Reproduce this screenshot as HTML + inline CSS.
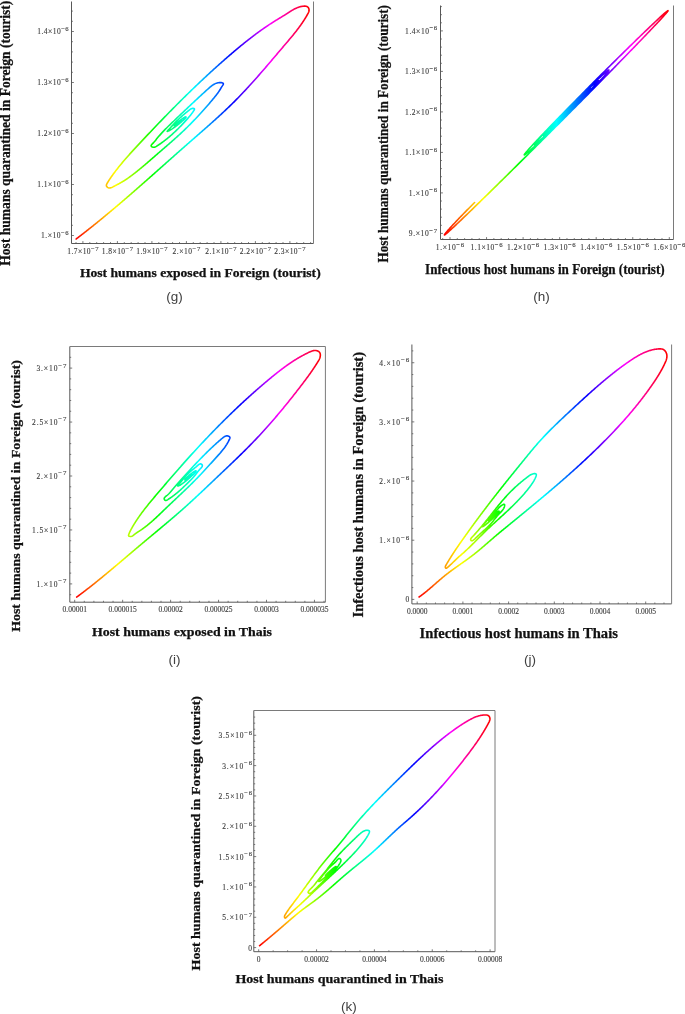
<!DOCTYPE html>
<html><head><meta charset="utf-8"><title>Figure</title>
<style>html,body{margin:0;padding:0;background:#fff}svg{display:block}.t{font-family:"Liberation Serif",serif;font-size:7.5px;fill:#3c3c3c;stroke:#3c3c3c;stroke-width:0.12px}.b{font-family:"Liberation Serif",serif;font-weight:bold;fill:#111;stroke:#111;stroke-width:0.25px}.c{font-family:"Liberation Sans","DejaVu Sans",sans-serif;font-size:13.5px;fill:#404040}</style></head><body>
<svg width="685" height="1014" viewBox="0 0 685 1014">
<rect width="685" height="1014" fill="#fff"/>
<path d="M71.5 1.5 V243.5 H313.5" fill="none" stroke="#585858" stroke-width="1"/>
<path d="M313.5 1.5 V243.5" fill="none" stroke="#7a7a7a" stroke-width="1"/>
<path d="M71.5 235.5h2.4M71.5 225.3h1.4M71.5 215.1h1.4M71.5 204.9h1.4M71.5 194.7h1.4M71.5 184.5h2.4M71.5 174.3h1.4M71.5 164.1h1.4M71.5 153.9h1.4M71.5 143.7h1.4M71.5 133.5h2.4M71.5 123.3h1.4M71.5 113.1h1.4M71.5 102.9h1.4M71.5 92.7h1.4M71.5 82.5h2.4M71.5 72.3h1.4M71.5 62.1h1.4M71.5 51.9h1.4M71.5 41.7h1.4M71.5 31.5h2.4M71.5 21.3h1.4M71.5 11.1h1.4" stroke="#585858" stroke-width="0.8" fill="none"/>
<path d="M76 243.5v-1.4M82.9 243.5v-2.4M89.8 243.5v-1.4M96.7 243.5v-1.4M103.6 243.5v-1.4M110.5 243.5v-1.4M117.4 243.5v-2.4M124.3 243.5v-1.4M131.2 243.5v-1.4M138.1 243.5v-1.4M145 243.5v-1.4M151.9 243.5v-2.4M158.8 243.5v-1.4M165.7 243.5v-1.4M172.6 243.5v-1.4M179.5 243.5v-1.4M186.4 243.5v-2.4M193.3 243.5v-1.4M200.2 243.5v-1.4M207.1 243.5v-1.4M214 243.5v-1.4M220.9 243.5v-2.4M227.8 243.5v-1.4M234.7 243.5v-1.4M241.6 243.5v-1.4M248.5 243.5v-1.4M255.4 243.5v-2.4M262.3 243.5v-1.4M269.2 243.5v-1.4M276.1 243.5v-1.4M283 243.5v-1.4M289.9 243.5v-2.4M296.8 243.5v-1.4M303.7 243.5v-1.4M310.6 243.5v-1.4" stroke="#585858" stroke-width="0.8" fill="none"/>
<text x="41" y="238.4" class="t" font-size="7.4" textLength="27.7" lengthAdjust="spacing">1.×10<tspan dy="-3.4" font-size="6.66">−6</tspan></text>
<text x="37.3" y="187.4" class="t" font-size="7.4" textLength="31.4" lengthAdjust="spacing">1.1×10<tspan dy="-3.4" font-size="6.66">−6</tspan></text>
<text x="37.3" y="136.4" class="t" font-size="7.4" textLength="31.4" lengthAdjust="spacing">1.2×10<tspan dy="-3.4" font-size="6.66">−6</tspan></text>
<text x="37.3" y="85.4" class="t" font-size="7.4" textLength="31.4" lengthAdjust="spacing">1.3×10<tspan dy="-3.4" font-size="6.66">−6</tspan></text>
<text x="37.3" y="34.4" class="t" font-size="7.4" textLength="31.4" lengthAdjust="spacing">1.4×10<tspan dy="-3.4" font-size="6.66">−6</tspan></text>
<text x="67.2" y="254.2" class="t" font-size="7.4" textLength="31.4" lengthAdjust="spacing">1.7×10<tspan dy="-3.4" font-size="6.66">−7</tspan></text>
<text x="101.7" y="254.2" class="t" font-size="7.4" textLength="31.4" lengthAdjust="spacing">1.8×10<tspan dy="-3.4" font-size="6.66">−7</tspan></text>
<text x="136.2" y="254.2" class="t" font-size="7.4" textLength="31.4" lengthAdjust="spacing">1.9×10<tspan dy="-3.4" font-size="6.66">−7</tspan></text>
<text x="172.55" y="254.2" class="t" font-size="7.4" textLength="27.7" lengthAdjust="spacing">2.×10<tspan dy="-3.4" font-size="6.66">−7</tspan></text>
<text x="205.2" y="254.2" class="t" font-size="7.4" textLength="31.4" lengthAdjust="spacing">2.1×10<tspan dy="-3.4" font-size="6.66">−7</tspan></text>
<text x="239.7" y="254.2" class="t" font-size="7.4" textLength="31.4" lengthAdjust="spacing">2.2×10<tspan dy="-3.4" font-size="6.66">−7</tspan></text>
<text x="274.2" y="254.2" class="t" font-size="7.4" textLength="31.4" lengthAdjust="spacing">2.3×10<tspan dy="-3.4" font-size="6.66">−7</tspan></text>
<text x="79.9" y="276.7" class="b" font-size="12.9" textLength="240.8" lengthAdjust="spacingAndGlyphs">Host humans exposed in Foreign (tourist)</text>
<text transform="translate(9.7 265.7) rotate(-90)" class="b" font-size="14.4" textLength="265" lengthAdjust="spacingAndGlyphs">Host humans quarantined in Foreign (tourist)</text>
<text x="174.5" y="301.2" text-anchor="middle" class="c">(g)</text>
<linearGradient id="g1" gradientUnits="userSpaceOnUse" x1="76.1" y1="0" x2="309.1" y2="0">
<stop offset="0" stop-color="#ff0000"/>
<stop offset="0.17" stop-color="#ffff00"/>
<stop offset="0.33" stop-color="#00ff00"/>
<stop offset="0.5" stop-color="#00ffff"/>
<stop offset="0.67" stop-color="#0000ff"/>
<stop offset="0.83" stop-color="#ff00ff"/>
<stop offset="1" stop-color="#ff0000"/>
</linearGradient>
<path d="M76.11 239.02 L76.65 238.61 L77.19 238.19 L77.74 237.78 L78.28 237.36 L78.82 236.95 L79.36 236.53 L79.9 236.12 L80.44 235.7 L80.98 235.28 L81.52 234.87 L82.06 234.45 L82.6 234.03 L83.14 233.61 L83.68 233.19 L84.22 232.77 L84.76 232.35 L85.29 231.93 L85.83 231.51 L86.37 231.09 L86.9 230.67 L87.44 230.25 L87.97 229.83 L88.51 229.4 L89.04 228.98 L89.58 228.56 L90.11 228.13 L90.65 227.71 L91.18 227.28 L91.71 226.86 L92.25 226.43 L92.78 226.01 L93.31 225.58 L93.84 225.15 L94.37 224.72 L94.91 224.3 L95.44 223.87 L95.97 223.44 L96.5 223.01 L97.03 222.58 L97.56 222.15 L98.09 221.72 L98.62 221.29 L99.14 220.86 L99.67 220.43 L100.2 220 L100.73 219.57 L101.26 219.14 L101.78 218.71 L102.31 218.27 L102.84 217.84 L103.36 217.41 L103.89 216.97 L104.41 216.54 L104.94 216.11 L105.46 215.67 L105.99 215.24 L106.51 214.8 L107.04 214.37 L107.56 213.93 L108.09 213.49 L108.61 213.06 L109.13 212.62 L109.66 212.18 L110.18 211.75 L110.7 211.31 L111.22 210.87 L111.75 210.43 L112.27 209.99 L112.79 209.56 L113.31 209.12 L113.83 208.68 L114.35 208.24 L114.87 207.8 L115.39 207.36 L115.91 206.92 L116.43 206.48 L116.95 206.04 L117.47 205.59 L117.99 205.15 L118.51 204.71 L119.03 204.27 L119.55 203.83 L120.07 203.39 L120.58 202.94 L121.1 202.5 L121.62 202.06 L122.14 201.61 L122.66 201.17 L123.17 200.73 L123.69 200.28 L124.21 199.84 L124.72 199.39 L125.24 198.95 L125.76 198.5 L126.27 198.06 L126.79 197.61 L127.3 197.17 L127.82 196.72 L128.33 196.28 L128.85 195.83 L129.37 195.38 L129.88 194.94 L130.39 194.49 L130.91 194.04 L131.42 193.6 L131.94 193.15 L132.45 192.7 L132.97 192.25 L133.48 191.81 L133.99 191.36 L134.51 190.91 L135.02 190.46 L135.53 190.01 L136.05 189.57 L136.56 189.12 L137.07 188.67 L137.59 188.22 L138.1 187.77 L138.61 187.32 L139.12 186.87 L139.64 186.42 L140.15 185.97 L140.66 185.52 L141.17 185.07 L141.68 184.62 L142.2 184.17 L142.71 183.72 L143.22 183.27 L143.73 182.82 L144.24 182.37 L144.75 181.92 L145.26 181.47 L145.78 181.02 L146.29 180.57 L146.8 180.11 L147.31 179.66 L147.82 179.21 L148.33 178.76 L148.84 178.31 L149.35 177.86 L149.86 177.4 L150.37 176.95 L150.88 176.5 L151.39 176.05 L151.9 175.6 L152.41 175.14 L152.92 174.69 L153.43 174.24 L153.94 173.79 L154.45 173.33 L154.96 172.88 L155.47 172.43 L155.98 171.98 L156.49 171.52 L157 171.07 L157.51 170.62 L158.02 170.17 L158.53 169.71 L159.04 169.26 L159.55 168.81 L160.06 168.35 L160.57 167.9 L161.08 167.45 L161.59 167 L162.1 166.54 L162.61 166.09 L163.12 165.64 L163.63 165.18 L164.14 164.73 L164.65 164.28 L165.16 163.82 L165.67 163.37 L166.18 162.92 L166.69 162.47 L167.2 162.01 L167.71 161.56 L168.22 161.11 L168.72 160.65 L169.23 160.2 L169.74 159.75 L170.25 159.29 L170.76 158.84 L171.27 158.39 L171.78 157.94 L172.29 157.48 L172.8 157.03 L173.31 156.58 L173.82 156.13 L174.33 155.67 L174.84 155.22 L175.35 154.77 L175.87 154.32 L176.38 153.86 L176.89 153.41 L177.4 152.96 L177.91 152.51 L178.42 152.05 L178.93 151.6 L179.44 151.15 L179.95 150.7 L180.46 150.25 L180.97 149.79 L181.48 149.34 L181.99 148.89 L182.51 148.44 L183.02 147.99 L183.53 147.54 L184.04 147.09 L184.55 146.64 L185.06 146.18 L185.58 145.73 L186.09 145.28 L186.6 144.83 L187.11 144.38 L187.62 143.93 L188.14 143.48 L188.65 143.03 L189.16 142.58 L189.67 142.13 L190.19 141.68 L190.7 141.23 L191.21 140.78 L191.73 140.33 L192.24 139.88 L192.75 139.43 L193.27 138.99 L193.78 138.54 L194.3 138.09 L194.81 137.64 L195.32 137.19 L195.84 136.74 L196.35 136.29 L196.86 135.84 L197.38 135.39 L197.89 134.95 L198.4 134.5 L198.92 134.05 L199.43 133.6 L199.94 133.15 L200.46 132.7 L200.97 132.25 L201.48 131.8 L202 131.35 L202.51 130.9 L203.02 130.45 L203.54 130 L204.05 129.55 L204.56 129.1 L205.07 128.65 L205.59 128.2 L206.1 127.75 L206.61 127.3 L207.12 126.85 L207.63 126.4 L208.14 125.94 L208.65 125.49 L209.16 125.04 L209.67 124.59 L210.18 124.13 L210.69 123.68 L211.2 123.23 L211.71 122.77 L212.22 122.32 L212.73 121.87 L213.23 121.41 L213.74 120.96 L214.25 120.5 L214.76 120.04 L215.26 119.59 L215.77 119.13 L216.27 118.67 L216.78 118.22 L217.28 117.76 L217.79 117.3 L218.29 116.84 L218.79 116.38 L219.3 115.92 L219.8 115.46 L220.3 115 L220.8 114.54 L221.3 114.08 L221.8 113.61 L222.3 113.15 L222.8 112.69 L223.3 112.22 L223.8 111.76 L224.3 111.29 L224.79 110.83 L225.29 110.36 L225.78 109.89 L226.28 109.42 L226.77 108.95 L227.27 108.48 L227.76 108.01 L228.25 107.54 L228.74 107.07 L229.23 106.6 L229.72 106.13 L230.21 105.65 L230.7 105.18 L231.19 104.7 L231.68 104.23 L232.16 103.75 L232.65 103.27 L233.13 102.8 L233.62 102.32 L234.1 101.84 L234.58 101.36 L235.07 100.87 L235.55 100.39 L236.03 99.91 L236.51 99.42 L236.99 98.94 L237.46 98.45 L237.94 97.97 L238.42 97.48 L238.89 96.99 L239.37 96.5 L239.84 96.01 L240.31 95.52 L240.78 95.03 L241.26 94.54 L241.73 94.05 L242.2 93.55 L242.67 93.06 L243.13 92.56 L243.6 92.07 L244.07 91.57 L244.54 91.08 L245 90.58 L245.47 90.08 L245.93 89.58 L246.4 89.08 L246.86 88.58 L247.32 88.08 L247.78 87.58 L248.25 87.08 L248.71 86.57 L249.17 86.07 L249.63 85.57 L250.09 85.06 L250.54 84.56 L251 84.05 L251.46 83.55 L251.92 83.04 L252.37 82.53 L252.83 82.03 L253.28 81.52 L253.74 81.01 L254.19 80.5 L254.65 79.99 L255.1 79.48 L255.55 78.97 L256.01 78.46 L256.46 77.95 L256.91 77.44 L257.36 76.92 L257.81 76.41 L258.26 75.9 L258.71 75.39 L259.16 74.87 L259.61 74.36 L260.06 73.84 L260.51 73.33 L260.96 72.82 L261.41 72.3 L261.85 71.78 L262.3 71.27 L262.75 70.75 L263.19 70.24 L263.64 69.72 L264.09 69.2 L264.53 68.69 L264.98 68.17 L265.42 67.65 L265.87 67.13 L266.31 66.61 L266.76 66.1 L267.2 65.58 L267.64 65.06 L268.09 64.54 L268.53 64.02 L268.97 63.5 L269.42 62.98 L269.86 62.46 L270.3 61.94 L270.74 61.42 L271.19 60.9 L271.63 60.39 L272.07 59.87 L272.51 59.35 L272.96 58.83 L273.4 58.3 L273.84 57.78 L274.28 57.26 L274.72 56.74 L275.16 56.22 L275.6 55.7 L276.04 55.18 L276.49 54.66 L276.93 54.14 L277.37 53.62 L277.81 53.1 L278.25 52.58 L278.69 52.06 L279.13 51.54 L279.57 51.02 L280.01 50.5 L280.46 49.98 L280.9 49.46 L281.34 48.94 L281.78 48.42 L282.22 47.9 L282.66 47.39 L283.1 46.87 L283.54 46.35 L283.99 45.83 L284.43 45.31 L284.87 44.79 L285.31 44.27 L285.75 43.76 L286.19 43.24 L286.63 42.72 L287.08 42.2 L287.52 41.68 L287.96 41.16 L288.4 40.64 L288.84 40.13 L289.27 39.61 L289.71 39.08 L290.15 38.56 L290.59 38.04 L291.02 37.52 L291.46 37 L291.89 36.47 L292.32 35.95 L292.75 35.42 L293.18 34.89 L293.61 34.37 L294.04 33.84 L294.47 33.31 L294.89 32.78 L295.31 32.24 L295.73 31.71 L296.15 31.17 L296.57 30.64 L296.99 30.1 L297.4 29.56 L297.81 29.02 L298.22 28.47 L298.63 27.93 L299.04 27.38 L299.44 26.83 L299.84 26.28 L300.24 25.73 L300.64 25.17 L301.03 24.62 L301.42 24.06 L301.81 23.5 L302.2 22.93 L302.58 22.37 L302.96 21.8 L303.34 21.23 L303.72 20.65 L304.09 20.08 L304.46 19.5 L304.82 18.92 L305.18 18.33 L305.54 17.75 L305.9 17.16 L306.25 16.56 L306.6 15.97 L306.94 15.37 L307.28 14.76 L307.62 14.16 L307.95 13.55 L308.27 12.94 L308.56 12.32 L308.79 11.68 L308.97 11.04 L309.06 10.38 L309.05 9.71 L308.93 9.02 L308.7 8.34 L308.37 7.71 L307.93 7.17 L307.41 6.75 L306.82 6.46 L306.16 6.27 L305.47 6.17 L304.75 6.14 L304.03 6.15 L303.32 6.19 L302.63 6.25 L301.94 6.35 L301.26 6.46 L300.59 6.61 L299.93 6.77 L299.28 6.95 L298.64 7.16 L298 7.38 L297.37 7.63 L296.75 7.89 L296.14 8.16 L295.52 8.45 L294.92 8.75 L294.32 9.07 L293.72 9.39 L293.13 9.73 L292.54 10.07 L291.96 10.43 L291.37 10.78 L290.79 11.15 L290.21 11.51 L289.63 11.88 L289.05 12.26 L288.48 12.63 L287.9 13 L287.32 13.37 L286.74 13.74 L286.16 14.11 L285.58 14.47 L285 14.83 L284.41 15.2 L283.83 15.56 L283.25 15.91 L282.67 16.27 L282.08 16.63 L281.5 16.99 L280.91 17.34 L280.33 17.7 L279.75 18.05 L279.16 18.41 L278.58 18.76 L278 19.12 L277.42 19.47 L276.84 19.83 L276.25 20.19 L275.67 20.55 L275.09 20.91 L274.52 21.27 L273.94 21.63 L273.36 21.99 L272.79 22.36 L272.21 22.72 L271.64 23.09 L271.07 23.46 L270.49 23.83 L269.92 24.2 L269.35 24.58 L268.79 24.95 L268.22 25.33 L267.65 25.71 L267.09 26.09 L266.52 26.47 L265.96 26.85 L265.4 27.24 L264.84 27.62 L264.28 28.01 L263.72 28.4 L263.16 28.79 L262.6 29.18 L262.04 29.57 L261.49 29.96 L260.93 30.36 L260.38 30.76 L259.82 31.15 L259.27 31.55 L258.72 31.95 L258.17 32.35 L257.62 32.76 L257.07 33.16 L256.52 33.56 L255.98 33.97 L255.43 34.38 L254.88 34.78 L254.34 35.19 L253.8 35.6 L253.25 36.02 L252.71 36.43 L252.17 36.84 L251.63 37.26 L251.09 37.67 L250.55 38.09 L250.01 38.51 L249.47 38.92 L248.93 39.34 L248.4 39.77 L247.86 40.19 L247.32 40.61 L246.79 41.03 L246.26 41.46 L245.72 41.88 L245.19 42.31 L244.66 42.73 L244.13 43.16 L243.6 43.59 L243.07 44.02 L242.54 44.45 L242.01 44.88 L241.48 45.31 L240.95 45.74 L240.42 46.18 L239.9 46.61 L239.37 47.04 L238.85 47.48 L238.32 47.92 L237.8 48.35 L237.27 48.79 L236.75 49.23 L236.23 49.66 L235.7 50.1 L235.18 50.54 L234.66 50.98 L234.14 51.42 L233.62 51.86 L233.1 52.31 L232.58 52.75 L232.06 53.19 L231.54 53.63 L231.02 54.08 L230.51 54.52 L229.99 54.96 L229.47 55.41 L228.96 55.85 L228.44 56.3 L227.92 56.75 L227.41 57.19 L226.89 57.64 L226.38 58.09 L225.87 58.54 L225.35 58.98 L224.84 59.43 L224.33 59.88 L223.81 60.33 L223.3 60.78 L222.79 61.23 L222.28 61.68 L221.77 62.13 L221.26 62.59 L220.75 63.04 L220.24 63.49 L219.73 63.94 L219.22 64.4 L218.71 64.85 L218.2 65.31 L217.7 65.76 L217.19 66.22 L216.68 66.67 L216.18 67.13 L215.67 67.58 L215.16 68.04 L214.66 68.5 L214.15 68.95 L213.65 69.41 L213.14 69.87 L212.64 70.33 L212.14 70.79 L211.63 71.25 L211.13 71.71 L210.63 72.17 L210.13 72.63 L209.62 73.09 L209.12 73.55 L208.62 74.01 L208.12 74.48 L207.62 74.94 L207.12 75.4 L206.62 75.86 L206.12 76.33 L205.62 76.79 L205.12 77.26 L204.63 77.72 L204.13 78.19 L203.63 78.65 L203.13 79.12 L202.64 79.58 L202.14 80.05 L201.64 80.52 L201.15 80.99 L200.65 81.45 L200.16 81.92 L199.66 82.39 L199.17 82.86 L198.67 83.33 L198.18 83.8 L197.69 84.27 L197.19 84.74 L196.7 85.21 L196.21 85.68 L195.71 86.15 L195.22 86.62 L194.73 87.09 L194.24 87.57 L193.75 88.04 L193.26 88.51 L192.77 88.98 L192.28 89.46 L191.79 89.93 L191.3 90.4 L190.81 90.88 L190.32 91.35 L189.83 91.83 L189.34 92.3 L188.85 92.78 L188.37 93.26 L187.88 93.73 L187.39 94.21 L186.9 94.69 L186.42 95.16 L185.93 95.64 L185.44 96.12 L184.96 96.6 L184.47 97.07 L183.99 97.55 L183.5 98.03 L183.02 98.51 L182.53 98.99 L182.05 99.47 L181.57 99.95 L181.08 100.43 L180.6 100.91 L180.12 101.39 L179.63 101.87 L179.15 102.36 L178.67 102.84 L178.19 103.32 L177.7 103.8 L177.22 104.28 L176.74 104.77 L176.26 105.25 L175.78 105.73 L175.3 106.22 L174.82 106.7 L174.34 107.19 L173.86 107.67 L173.38 108.16 L172.9 108.64 L172.42 109.13 L171.94 109.61 L171.46 110.1 L170.99 110.58 L170.51 111.07 L170.03 111.56 L169.55 112.04 L169.07 112.53 L168.6 113.02 L168.12 113.5 L167.64 113.99 L167.17 114.48 L166.69 114.97 L166.21 115.46 L165.74 115.94 L165.26 116.43 L164.79 116.92 L164.31 117.41 L163.84 117.9 L163.36 118.39 L162.89 118.88 L162.41 119.37 L161.94 119.86 L161.46 120.35 L160.99 120.84 L160.52 121.33 L160.04 121.82 L159.57 122.32 L159.1 122.81 L158.62 123.3 L158.15 123.79 L157.68 124.28 L157.21 124.78 L156.73 125.27 L156.26 125.76 L155.79 126.25 L155.32 126.75 L154.85 127.24 L154.38 127.73 L153.91 128.23 L153.43 128.72 L152.96 129.22 L152.49 129.71 L152.02 130.2 L151.55 130.7 L151.08 131.19 L150.61 131.69 L150.14 132.18 L149.67 132.68 L149.2 133.17 L148.74 133.67 L148.27 134.17 L147.8 134.66 L147.33 135.16 L146.86 135.65 L146.39 136.15 L145.92 136.65 L145.46 137.14 L144.99 137.64 L144.52 138.14 L144.05 138.63 L143.58 139.13 L143.12 139.63 L142.65 140.13 L142.18 140.62 L141.72 141.12 L141.25 141.62 L140.78 142.12 L140.32 142.62 L139.85 143.12 L139.38 143.61 L138.92 144.11 L138.45 144.61 L137.98 145.11 L137.52 145.61 L137.05 146.11 L136.59 146.61 L136.13 147.11 L135.66 147.61 L135.2 148.11 L134.74 148.61 L134.27 149.11 L133.81 149.62 L133.35 150.12 L132.89 150.62 L132.43 151.13 L131.97 151.63 L131.51 152.13 L131.05 152.64 L130.6 153.15 L130.14 153.65 L129.68 154.16 L129.23 154.67 L128.78 155.17 L128.32 155.68 L127.87 156.19 L127.42 156.7 L126.97 157.21 L126.52 157.72 L126.07 158.24 L125.63 158.75 L125.18 159.26 L124.74 159.78 L124.3 160.29 L123.85 160.81 L123.41 161.33 L122.97 161.85 L122.54 162.37 L122.1 162.89 L121.66 163.41 L121.23 163.93 L120.8 164.45 L120.37 164.98 L119.94 165.5 L119.51 166.03 L119.09 166.56 L118.66 167.09 L118.24 167.62 L117.82 168.15 L117.4 168.68 L116.98 169.21 L116.57 169.75 L116.15 170.28 L115.74 170.82 L115.33 171.36 L114.92 171.9 L114.52 172.44 L114.11 172.98 L113.71 173.53 L113.31 174.07 L112.91 174.62 L112.51 175.17 L112.12 175.72 L111.73 176.27 L111.34 176.82 L110.95 177.38 L110.56 177.94 L110.18 178.51 L109.79 179.08 L109.41 179.67 L109.02 180.26 L108.64 180.86 L108.26 181.46 L107.87 182.09 L107.49 182.72 L107.11 183.36 L106.78 184.01 L106.53 184.65 L106.4 185.28 L106.44 185.88 L106.68 186.45 L107.09 186.96 L107.64 187.4 L108.26 187.72 L108.92 187.91 L109.58 187.96 L110.25 187.9 L110.92 187.74 L111.59 187.51 L112.26 187.22 L112.92 186.89 L113.58 186.54 L114.23 186.2 L114.87 185.86 L115.5 185.52 L116.12 185.2 L116.74 184.87 L117.34 184.55 L117.94 184.23 L118.54 183.92 L119.13 183.6 L119.71 183.28 L120.29 182.96 L120.87 182.64 L121.45 182.31 L122.02 181.98 L122.59 181.64 L123.16 181.3 L123.73 180.95 L124.3 180.59 L124.86 180.23 L125.43 179.86 L126 179.48 L126.56 179.1 L127.12 178.72 L127.68 178.33 L128.25 177.94 L128.8 177.54 L129.36 177.14 L129.92 176.74 L130.47 176.33 L131.02 175.93 L131.57 175.52 L132.12 175.11 L132.67 174.69 L133.22 174.28 L133.76 173.86 L134.3 173.44 L134.84 173.02 L135.38 172.6 L135.92 172.18 L136.46 171.76 L136.99 171.33 L137.53 170.91 L138.06 170.48 L138.59 170.05 L139.12 169.62 L139.65 169.19 L140.18 168.75 L140.71 168.32 L141.23 167.88 L141.76 167.45 L142.28 167.01 L142.8 166.57 L143.32 166.13 L143.85 165.69 L144.37 165.25 L144.89 164.81 L145.41 164.37 L145.92 163.93 L146.44 163.48 L146.96 163.04 L147.47 162.6 L147.99 162.15 L148.51 161.7 L149.02 161.26 L149.54 160.81 L150.05 160.37 L150.56 159.92 L151.08 159.47 L151.59 159.02 L152.1 158.58 L152.62 158.13 L153.13 157.68 L153.64 157.23 L154.16 156.79 L154.67 156.34 L155.18 155.89 L155.7 155.44 L156.21 155 L156.72 154.55 L157.24 154.1 L157.75 153.65 L158.26 153.21 L158.78 152.76 L159.29 152.32 L159.81 151.87 L160.32 151.43 L160.84 150.98 L161.35 150.54 L161.87 150.09 L162.38 149.65 L162.9 149.2 L163.42 148.76 L163.93 148.31 L164.45 147.87 L164.96 147.42 L165.48 146.98 L165.99 146.53 L166.51 146.08 L167.02 145.64 L167.54 145.19 L168.05 144.75 L168.57 144.3 L169.08 143.85 L169.59 143.4 L170.11 142.96 L170.62 142.51 L171.13 142.06 L171.65 141.61 L172.16 141.16 L172.67 140.71 L173.18 140.26 L173.69 139.8 L174.2 139.35 L174.71 138.9 L175.22 138.44 L175.73 137.99 L176.24 137.53 L176.74 137.08 L177.25 136.62 L177.76 136.16 L178.26 135.7 L178.77 135.24 L179.27 134.78 L179.77 134.32 L180.28 133.85 L180.78 133.39 L181.28 132.92 L181.78 132.45 L182.28 131.98 L182.77 131.51 L183.27 131.04 L183.77 130.57 L184.26 130.1 L184.76 129.62 L185.25 129.15 L185.74 128.67 L186.23 128.19 L186.72 127.71 L187.21 127.23 L187.7 126.75 L188.18 126.27 L188.67 125.79 L189.15 125.3 L189.64 124.82 L190.12 124.33 L190.6 123.84 L191.08 123.36 L191.56 122.87 L192.04 122.38 L192.51 121.89 L192.99 121.4 L193.46 120.91 L193.93 120.42 L194.41 119.93 L194.88 119.44 L195.34 118.95 L195.81 118.45 L196.28 117.96 L196.74 117.47 L197.21 116.97 L197.67 116.48 L198.13 115.99 L198.59 115.49 L199.05 115 L199.5 114.5 L199.96 114.01 L200.41 113.51 L200.86 113.02 L201.32 112.52 L201.77 112.03 L202.21 111.53 L202.66 111.04 L203.11 110.54 L203.56 110.04 L204 109.54 L204.45 109.04 L204.9 108.54 L205.34 108.03 L205.79 107.53 L206.23 107.02 L206.68 106.51 L207.12 106 L207.57 105.48 L208.02 104.97 L208.46 104.45 L208.91 103.92 L209.36 103.4 L209.81 102.87 L210.26 102.34 L210.72 101.81 L211.17 101.27 L211.63 100.72 L212.08 100.18 L212.54 99.63 L213 99.08 L213.46 98.52 L213.92 97.96 L214.38 97.4 L214.83 96.84 L215.28 96.28 L215.73 95.72 L216.17 95.16 L216.6 94.6 L217.02 94.04 L217.44 93.49 L217.84 92.94 L218.23 92.4 L218.61 91.86 L218.97 91.33 L219.32 90.8 L219.65 90.28 L219.97 89.77 L220.27 89.27 L220.55 88.77 L220.85 88.25 L221.17 87.7 L221.55 87.1 L222.01 86.42 L222.53 85.66 L223.02 84.9 L223.33 84.2 L223.37 83.63 L223.08 83.22 L222.57 82.94 L221.91 82.77 L221.21 82.66 L220.51 82.61 L219.83 82.59 L219.16 82.63 L218.5 82.7 L217.85 82.81 L217.22 82.97 L216.59 83.15 L215.98 83.37 L215.38 83.62 L214.78 83.9 L214.19 84.2 L213.62 84.54 L213.05 84.89 L212.48 85.27 L211.93 85.66 L211.38 86.07 L210.83 86.5 L210.29 86.93 L209.76 87.38 L209.22 87.84 L208.7 88.31 L208.17 88.78 L207.65 89.25 L207.13 89.72 L206.61 90.19 L206.09 90.66 L205.57 91.13 L205.06 91.61 L204.54 92.08 L204.03 92.54 L203.52 93.01 L203.01 93.48 L202.5 93.95 L201.99 94.42 L201.49 94.88 L200.98 95.35 L200.48 95.82 L199.97 96.28 L199.47 96.75 L198.97 97.21 L198.47 97.68 L197.97 98.14 L197.47 98.61 L196.97 99.07 L196.48 99.54 L195.98 100 L195.48 100.46 L194.99 100.93 L194.49 101.39 L194 101.85 L193.51 102.32 L193.01 102.78 L192.52 103.24 L192.03 103.7 L191.54 104.17 L191.05 104.63 L190.56 105.09 L190.07 105.56 L189.58 106.02 L189.09 106.48 L188.6 106.95 L188.11 107.41 L187.62 107.87 L187.13 108.34 L186.64 108.8 L186.15 109.26 L185.66 109.73 L185.17 110.19 L184.68 110.66 L184.19 111.12 L183.7 111.59 L183.21 112.05 L182.72 112.52 L182.23 112.98 L181.74 113.45 L181.25 113.92 L180.75 114.39 L180.26 114.85 L179.77 115.32 L179.28 115.79 L178.78 116.26 L178.29 116.73 L177.79 117.2 L177.3 117.67 L176.8 118.14 L176.3 118.62 L175.8 119.09 L175.31 119.56 L174.81 120.04 L174.31 120.51 L173.81 120.99 L173.31 121.46 L172.81 121.94 L172.3 122.42 L171.8 122.9 L171.31 123.38 L170.81 123.86 L170.31 124.34 L169.81 124.82 L169.31 125.3 L168.82 125.78 L168.33 126.26 L167.83 126.75 L167.34 127.23 L166.85 127.72 L166.37 128.21 L165.88 128.69 L165.4 129.18 L164.92 129.67 L164.45 130.16 L163.97 130.65 L163.5 131.14 L163.03 131.63 L162.57 132.13 L162.11 132.62 L161.65 133.11 L161.2 133.61 L160.75 134.11 L160.3 134.6 L159.86 135.1 L159.42 135.6 L158.99 136.1 L158.56 136.6 L158.14 137.1 L157.72 137.61 L157.31 138.11 L156.9 138.61 L156.49 139.12 L156.08 139.63 L155.66 140.15 L155.23 140.67 L154.79 141.2 L154.32 141.74 L153.84 142.29 L153.32 142.85 L152.78 143.43 L152.21 144.01 L151.67 144.61 L151.26 145.18 L151.09 145.73 L151.25 146.23 L151.73 146.67 L152.4 146.99 L153.11 147.18 L153.8 147.23 L154.45 147.15 L155.09 146.97 L155.7 146.71 L156.3 146.39 L156.89 146.03 L157.48 145.65 L158.06 145.27 L158.64 144.89 L159.21 144.5 L159.78 144.11 L160.35 143.72 L160.92 143.32 L161.48 142.92 L162.04 142.52 L162.6 142.11 L163.15 141.71 L163.7 141.29 L164.25 140.88 L164.79 140.46 L165.34 140.04 L165.87 139.62 L166.41 139.19 L166.95 138.76 L167.48 138.33 L168.01 137.9 L168.53 137.46 L169.06 137.02 L169.58 136.58 L170.1 136.14 L170.61 135.69 L171.13 135.24 L171.64 134.79 L172.15 134.34 L172.66 133.88 L173.16 133.42 L173.66 132.96 L174.16 132.5 L174.66 132.03 L175.16 131.57 L175.65 131.1 L176.14 130.63 L176.63 130.16 L177.12 129.68 L177.61 129.21 L178.09 128.73 L178.57 128.25 L179.05 127.77 L179.53 127.29 L180.01 126.8 L180.48 126.32 L180.95 125.83 L181.42 125.34 L181.89 124.85 L182.36 124.36 L182.83 123.87 L183.29 123.37 L183.75 122.88 L184.21 122.38 L184.67 121.88 L185.13 121.38 L185.59 120.88 L186.04 120.38 L186.5 119.88 L186.95 119.38 L187.4 118.87 L187.85 118.36 L188.29 117.85 L188.74 117.33 L189.18 116.81 L189.61 116.29 L190.05 115.76 L190.48 115.22 L190.9 114.68 L191.32 114.13 L191.74 113.57 L192.16 113 L192.56 112.43 L192.97 111.85 L193.37 111.26 L193.76 110.66 L194.14 110.04 L194.43 109.46 L194.44 108.96 L194.05 108.61 L193.4 108.41 L192.68 108.38 L191.99 108.49 L191.33 108.73 L190.7 109.06 L190.1 109.45 L189.51 109.89 L188.95 110.35 L188.39 110.8 L187.85 111.23 L187.32 111.66 L186.8 112.08 L186.29 112.49 L185.78 112.9 L185.27 113.31 L184.76 113.72 L184.26 114.14 L183.75 114.56 L183.23 115 L182.72 115.44 L182.2 115.9 L181.68 116.35 L181.16 116.82 L180.64 117.29 L180.12 117.77 L179.6 118.25 L179.08 118.73 L178.57 119.22 L178.06 119.71 L177.56 120.2 L177.06 120.69 L176.56 121.18 L176.08 121.67 L175.6 122.15 L175.13 122.64 L174.67 123.12 L174.22 123.59 L173.78 124.06 L173.35 124.53 L172.93 124.98 L172.53 125.43 L172.14 125.88 L171.74 126.33 L171.32 126.8 L170.87 127.29 L170.39 127.82 L169.85 128.39 L169.24 129.02 L168.55 129.71 L167.88 130.4 L167.39 130.98 L167.25 131.34 L167.63 131.34 L168.32 131.09 L168.94 130.8 L169.52 130.48 L170.11 130.14 L170.7 129.79 L171.28 129.42 L171.86 129.06 L172.43 128.68 L172.99 128.3 L173.55 127.91 L174.11 127.52 L174.66 127.13 L175.21 126.73 L175.76 126.32 L176.31 125.91 L176.85 125.5 L177.4 125.09 L177.94 124.67 L178.47 124.25 L179.01 123.82 L179.54 123.39 L180.07 122.96 L180.59 122.53 L181.11 122.1 L181.63 121.65 L182.14 121.21 L182.65 120.75 L183.16 120.29 L183.66 119.82 L184.16 119.34 L184.65 118.86 L185.1 118.39 L185.53 117.9 L186.01 117.26 L185.88 116.87 L185.27 116.96 L184.66 117.27 L184.06 117.63 L183.48 118 L182.9 118.38 L182.33 118.76 L181.77 119.14 L181.22 119.54 L180.67 119.94 L180.12 120.34 L179.59 120.75 L179.05 121.17 L178.52 121.59 L177.99 122.03 L177.46 122.46 L176.94 122.91 L176.43 123.36 L175.93 123.82 L175.43 124.29 L174.94 124.77 L174.49 125.28 L174.33 125.83 L174.96 125.64 L175.58 125.3 L176.13 124.94 L176.69 124.56 L177.25 124.17 L177.81 123.76 L178.36 123.35 L178.89 122.93 L179.41 122.5 L179.93 122.05 L180.44 121.6 L180.95 121.13 L181.41 120.62 L181.37 120.27 L180.74 120.6 L180.16 120.99 L179.62 121.36 L179.08 121.77 L178.54 122.2 L178.01 122.65 L177.51 123.09 L177.06 123.64 L177.57 123.5 L178.13 123.11 L178.68 122.7 L179.21 122.28 L179.72 121.79 L179.5 121.72 L178.97 122.09 L178.39 122.56 L178.28 122.84 L178.87 122.41 L179.07 122.12 L178.51 122.59" fill="none" stroke="url(#g1)" stroke-width="1.6" stroke-linecap="round" stroke-linejoin="round"/>
<path d="M440.5 5.5 V239.5 H673.5" fill="none" stroke="#585858" stroke-width="1"/>
<path d="M673.5 5.5 V239.5" fill="none" stroke="#7a7a7a" stroke-width="1"/>
<path d="M440.5 233.4h2.4M440.5 225.3h1.4M440.5 217.2h1.4M440.5 209.1h1.4M440.5 201h1.4M440.5 192.9h2.4M440.5 184.8h1.4M440.5 176.7h1.4M440.5 168.6h1.4M440.5 160.5h1.4M440.5 152.4h2.4M440.5 144.3h1.4M440.5 136.2h1.4M440.5 128.1h1.4M440.5 120h1.4M440.5 111.9h2.4M440.5 103.8h1.4M440.5 95.7h1.4M440.5 87.6h1.4M440.5 79.5h1.4M440.5 71.4h2.4M440.5 63.3h1.4M440.5 55.2h1.4M440.5 47.1h1.4M440.5 39h1.4M440.5 30.9h2.4M440.5 22.8h1.4M440.5 14.7h1.4M440.5 6.6h1.4" stroke="#585858" stroke-width="0.8" fill="none"/>
<path d="M442.69 239.5v-1.4M450 239.5v-2.4M457.31 239.5v-1.4M464.62 239.5v-1.4M471.93 239.5v-1.4M479.24 239.5v-1.4M486.55 239.5v-2.4M493.86 239.5v-1.4M501.17 239.5v-1.4M508.48 239.5v-1.4M515.79 239.5v-1.4M523.1 239.5v-2.4M530.41 239.5v-1.4M537.72 239.5v-1.4M545.03 239.5v-1.4M552.34 239.5v-1.4M559.65 239.5v-2.4M566.96 239.5v-1.4M574.27 239.5v-1.4M581.58 239.5v-1.4M588.89 239.5v-1.4M596.2 239.5v-2.4M603.51 239.5v-1.4M610.82 239.5v-1.4M618.13 239.5v-1.4M625.44 239.5v-1.4M632.75 239.5v-2.4M640.06 239.5v-1.4M647.37 239.5v-1.4M654.68 239.5v-1.4M661.99 239.5v-1.4M669.3 239.5v-2.4" stroke="#585858" stroke-width="0.8" fill="none"/>
<text x="408.8" y="236.3" class="t" font-size="7.5" textLength="28.4" lengthAdjust="spacing">9.×10<tspan dy="-3.45" font-size="6.75">−7</tspan></text>
<text x="408.8" y="195.8" class="t" font-size="7.5" textLength="28.4" lengthAdjust="spacing">1.×10<tspan dy="-3.45" font-size="6.75">−6</tspan></text>
<text x="405.1" y="155.3" class="t" font-size="7.5" textLength="32.1" lengthAdjust="spacing">1.1×10<tspan dy="-3.45" font-size="6.75">−6</tspan></text>
<text x="405.1" y="114.8" class="t" font-size="7.5" textLength="32.1" lengthAdjust="spacing">1.2×10<tspan dy="-3.45" font-size="6.75">−6</tspan></text>
<text x="405.1" y="74.3" class="t" font-size="7.5" textLength="32.1" lengthAdjust="spacing">1.3×10<tspan dy="-3.45" font-size="6.75">−6</tspan></text>
<text x="405.1" y="33.8" class="t" font-size="7.5" textLength="32.1" lengthAdjust="spacing">1.4×10<tspan dy="-3.45" font-size="6.75">−6</tspan></text>
<text x="435.8" y="250.2" class="t" font-size="7.5" textLength="28.4" lengthAdjust="spacing">1.×10<tspan dy="-3.45" font-size="6.75">−6</tspan></text>
<text x="470.5" y="250.2" class="t" font-size="7.5" textLength="32.1" lengthAdjust="spacing">1.1×10<tspan dy="-3.45" font-size="6.75">−6</tspan></text>
<text x="507.05" y="250.2" class="t" font-size="7.5" textLength="32.1" lengthAdjust="spacing">1.2×10<tspan dy="-3.45" font-size="6.75">−6</tspan></text>
<text x="543.6" y="250.2" class="t" font-size="7.5" textLength="32.1" lengthAdjust="spacing">1.3×10<tspan dy="-3.45" font-size="6.75">−6</tspan></text>
<text x="580.15" y="250.2" class="t" font-size="7.5" textLength="32.1" lengthAdjust="spacing">1.4×10<tspan dy="-3.45" font-size="6.75">−6</tspan></text>
<text x="616.7" y="250.2" class="t" font-size="7.5" textLength="32.1" lengthAdjust="spacing">1.5×10<tspan dy="-3.45" font-size="6.75">−6</tspan></text>
<text x="653.25" y="250.2" class="t" font-size="7.5" textLength="32.1" lengthAdjust="spacing">1.6×10<tspan dy="-3.45" font-size="6.75">−6</tspan></text>
<text x="425.1" y="273.8" class="b" font-size="14.1" textLength="239.6" lengthAdjust="spacingAndGlyphs">Infectious host humans in Foreign (tourist)</text>
<text transform="translate(387.9 262.6) rotate(-90)" class="b" font-size="13.9" textLength="257.6" lengthAdjust="spacingAndGlyphs">Host humans quarantined in Foreign (tourist)</text>
<text x="541.4" y="301" text-anchor="middle" class="c">(h)</text>
<linearGradient id="g2" gradientUnits="userSpaceOnUse" x1="444.7" y1="0" x2="668.3" y2="0">
<stop offset="0" stop-color="#ff0000"/>
<stop offset="0.17" stop-color="#ffff00"/>
<stop offset="0.33" stop-color="#00ff00"/>
<stop offset="0.5" stop-color="#00ffff"/>
<stop offset="0.67" stop-color="#0000ff"/>
<stop offset="0.83" stop-color="#ff00ff"/>
<stop offset="1" stop-color="#ff0000"/>
</linearGradient>
<path d="M474.6 202.5 L473.36 203.74 L472.13 204.98 L470.9 206.22 L469.67 207.46 L468.45 208.69 L467.24 209.92 L466.05 211.14 L464.86 212.35 L463.7 213.55 L462.55 214.73 L461.42 215.9 L460.31 217.05 L459.23 218.17 L458.18 219.28 L457.15 220.36 L456.15 221.41 L455.18 222.44 L454.24 223.43 L453.34 224.4 L452.48 225.33 L451.65 226.23 L450.86 227.09 L450.12 227.91 L449.41 228.69 L448.75 229.43 L448.13 230.13 L447.55 230.79 L447.03 231.4 L446.54 231.97 L446.11 232.49 L445.73 232.96 L445.39 233.39 L445.1 233.76 L444.87 234.09 L444.68 234.36 L444.55 234.59 L444.47 234.76 L444.44 234.89 L444.46 234.96 L444.5 234.97 L444.58 234.95 L444.68 234.9 L444.82 234.82 L444.99 234.71 L445.18 234.57 L445.41 234.4 L445.67 234.19 L445.96 233.96 L446.28 233.69 L446.63 233.4 L447.01 233.07 L447.42 232.71 L447.86 232.33 L448.34 231.91 L448.84 231.46 L449.37 230.98 L449.93 230.48 L450.52 229.94 L451.13 229.37 L451.78 228.78 L452.46 228.15 L453.16 227.49 L453.9 226.81 L454.66 226.1 L455.45 225.36 L456.27 224.59 L457.11 223.79 L457.99 222.97 L458.89 222.11 L459.81 221.23 L460.77 220.32 L461.75 219.39 L462.75 218.43 L463.79 217.44 L464.84 216.43 L465.93 215.39 L467.03 214.32 L468.17 213.23 L469.32 212.12 L470.5 210.98 L471.71 209.81 L472.94 208.62 L474.19 207.41 L475.46 206.17 L476.76 204.91 L478.07 203.63 L479.41 202.33 L480.77 201 L482.15 199.66 L483.56 198.29 L484.98 196.9 L486.42 195.49 L487.88 194.06 L489.36 192.61 L490.86 191.14 L492.38 189.65 L493.91 188.15 L495.46 186.62 L497.03 185.08 L498.61 183.52 L500.21 181.94 L501.83 180.35 L503.46 178.74 L505.11 177.12 L506.77 175.48 L508.44 173.83 L510.13 172.16 L511.83 170.48 L513.54 168.79 L515.26 167.08 L517 165.36 L518.74 163.63 L520.5 161.89 L522.26 160.13 L524.04 158.37 L525.82 156.6 L527.61 154.82 L529.42 153.02 L531.22 151.22 L533.04 149.42 L534.86 147.6 L536.69 145.78 L538.52 143.95 L540.36 142.12 L542.2 140.28 L544.04 138.44 L545.89 136.59 L547.74 134.74 L549.6 132.88 L551.45 131.02 L553.31 129.16 L555.17 127.3 L557.03 125.44 L558.89 123.57 L560.75 121.71 L562.6 119.84 L564.46 117.98 L566.31 116.12 L568.16 114.26 L570 112.4 L571.85 110.55 L573.68 108.69 L575.52 106.85 L577.35 105 L579.17 103.17 L580.98 101.33 L582.79 99.51 L584.6 97.69 L586.39 95.87 L588.17 94.07 L589.95 92.27 L591.72 90.48 L593.48 88.7 L595.22 86.93 L596.96 85.16 L598.69 83.41 L600.4 81.67 L602.1 79.94 L603.79 78.23 L605.47 76.52 L607.13 74.83 L608.78 73.15 L610.41 71.49 L612.03 69.84 L613.63 68.2 L615.22 66.58 L616.79 64.98 L618.34 63.39 L619.88 61.81 L621.4 60.26 L622.9 58.72 L624.38 57.2 L625.85 55.69 L627.29 54.21 L628.72 52.74 L630.12 51.3 L631.51 49.87 L632.87 48.47 L634.22 47.08 L635.54 45.72 L636.84 44.37 L638.12 43.05 L639.37 41.75 L640.6 40.47 L641.81 39.22 L642.99 37.99 L644.16 36.78 L645.29 35.59 L646.4 34.43 L647.49 33.3 L648.55 32.19 L649.59 31.1 L650.6 30.04 L651.58 29.01 L652.54 28 L653.47 27.01 L654.38 26.06 L655.26 25.13 L656.11 24.22 L656.93 23.35 L657.72 22.5 L658.49 21.68 L659.23 20.89 L659.94 20.12 L660.62 19.39 L661.27 18.68 L661.9 18 L662.49 17.35 L663.06 16.73 L663.59 16.14 L664.1 15.58 L664.57 15.05 L665.02 14.55 L665.44 14.07 L665.82 13.63 L666.18 13.22 L666.5 12.84 L666.8 12.49 L667.06 12.16 L667.3 11.87 L667.5 11.61 L667.67 11.39 L667.81 11.19 L667.92 11.02 L668 10.88 L668.05 10.78 L668.07 10.7 L668.06 10.66 L667.99 10.64 L667.88 10.68 L667.72 10.76 L667.51 10.89 L667.25 11.07 L666.95 11.29 L666.59 11.57 L666.19 11.89 L665.74 12.26 L665.25 12.68 L664.71 13.14 L664.12 13.66 L663.49 14.21 L662.81 14.82 L662.08 15.47 L661.32 16.17 L660.5 16.91 L659.65 17.69 L658.75 18.52 L657.81 19.39 L656.83 20.31 L655.8 21.27 L654.74 22.27 L653.64 23.31 L652.5 24.39 L651.32 25.5 L650.1 26.66 L648.85 27.86 L647.56 29.09 L646.24 30.36 L644.88 31.66 L643.49 33 L642.07 34.37 L640.62 35.78 L639.14 37.22 L637.62 38.68 L636.08 40.18 L634.52 41.71 L632.93 43.26 L631.31 44.84 L629.67 46.44 L628.01 48.07 L626.32 49.73 L624.62 51.4 L622.89 53.1 L621.15 54.82 L619.39 56.55 L617.62 58.3 L615.83 60.07 L614.03 61.86 L612.21 63.66 L610.39 65.47 L608.55 67.29 L606.71 69.13 L604.86 70.97 L603 72.82 L601.14 74.68 L599.28 76.54 L597.41 78.41 L595.55 80.28 L593.68 82.15 L591.82 84.03 L589.95 85.9 L588.1 87.77 L586.24 89.64 L584.4 91.5 L582.56 93.35 L580.73 95.2 L578.91 97.04 L577.11 98.87 L575.31 100.69 L573.54 102.5 L571.77 104.29 L570.02 106.07 L568.29 107.84 L566.58 109.59 L564.89 111.32 L563.22 113.03 L561.57 114.72 L559.95 116.38 L558.35 118.03 L556.77 119.65 L555.22 121.25 L553.7 122.82 L552.21 124.36 L550.75 125.88 L549.32 127.36 L547.92 128.82 L546.55 130.25 L545.22 131.64 L543.92 133 L542.65 134.33 L541.42 135.62 L540.23 136.88 L539.08 138.1 L537.96 139.28 L536.89 140.42 L535.85 141.53 L534.85 142.6 L533.9 143.62 L532.99 144.61 L532.12 145.55 L531.29 146.45 L530.51 147.31 L529.77 148.12 L529.08 148.89 L528.43 149.62 L527.82 150.3 L527.27 150.94 L526.76 151.53 L526.29 152.07 L525.88 152.56 L525.51 153.01 L525.19 153.42 L524.91 153.77 L524.69 154.08 L524.51 154.33 L524.38 154.54 L524.3 154.71 L524.27 154.82 L524.28 154.88 L524.39 154.9 L524.58 154.84 L524.86 154.69 L525.22 154.45 L525.66 154.13 L526.19 153.73 L526.79 153.24 L527.48 152.67 L528.25 152.02 L529.09 151.29 L530.01 150.49 L531 149.6 L532.06 148.64 L533.2 147.61 L534.4 146.51 L535.66 145.33 L536.99 144.09 L538.38 142.79 L539.82 141.43 L541.32 140.01 L542.87 138.53 L544.47 137 L546.11 135.42 L547.79 133.8 L549.51 132.13 L551.27 130.42 L553.05 128.68 L554.87 126.9 L556.7 125.09 L558.56 123.26 L560.43 121.41 L562.32 119.54 L564.21 117.65 L566.11 115.76 L568.01 113.85 L569.91 111.95 L571.8 110.04 L573.68 108.14 L575.54 106.25 L577.39 104.38 L579.21 102.51 L581.01 100.67 L582.79 98.85 L584.52 97.06 L586.23 95.3 L587.89 93.57 L589.51 91.89 L591.08 90.24 L592.61 88.64 L594.08 87.08 L595.5 85.58 L596.85 84.13 L598.15 82.74 L599.39 81.41 L600.55 80.14 L601.65 78.94 L602.68 77.8 L603.64 76.73 L604.52 75.74 L605.33 74.82 L606.05 73.97 L606.7 73.2 L607.27 72.51 L607.75 71.91 L608.16 71.38 L608.47 70.94 L608.71 70.57 L608.86 70.3 L608.92 70.11 L608.9 70 L608.79 69.98 L608.58 70.06 L608.28 70.24 L607.88 70.51 L607.39 70.88 L606.81 71.34 L606.14 71.89 L605.38 72.53 L604.53 73.26 L603.6 74.08 L602.59 74.99 L601.49 75.98 L600.32 77.05 L599.08 78.19 L597.76 79.42 L596.38 80.71 L594.94 82.07 L593.43 83.5 L591.87 84.99 L590.26 86.54 L588.6 88.14 L586.9 89.79 L585.15 91.48 L583.38 93.22 L581.57 94.99 L579.73 96.79 L577.88 98.62 L576.01 100.48 L574.13 102.35 L572.24 104.23 L570.35 106.12 L568.46 108.02 L566.59 109.91 L564.72 111.8 L562.87 113.68 L561.05 115.54 L559.25 117.38 L557.48 119.19 L555.75 120.97 L554.06 122.72 L552.42 124.43 L550.83 126.1 L549.28 127.71 L547.8 129.28 L546.38 130.79 L545.02 132.24 L543.73 133.62 L542.51 134.94 L541.37 136.19 L540.3 137.36 L539.32 138.46 L538.41 139.47 L537.6 140.41 L536.87 141.26 L536.23 142.02 L535.68 142.69 L535.22 143.28 L534.86 143.77 L534.59 144.16 L534.41 144.47 L534.33 144.68 L534.35 144.79 L534.47 144.8 L534.71 144.7 L535.06 144.48 L535.52 144.16 L536.08 143.72 L536.75 143.17 L537.53 142.52 L538.41 141.76 L539.39 140.9 L540.46 139.94 L541.62 138.88 L542.87 137.74 L544.2 136.5 L545.61 135.18 L547.1 133.78 L548.65 132.31 L550.26 130.76 L551.93 129.16 L553.66 127.49 L555.42 125.78 L557.23 124.01 L559.06 122.21 L560.93 120.37 L562.81 118.51 L564.7 116.62 L566.6 114.73 L568.5 112.82 L570.4 110.91 L572.27 109.01 L574.13 107.12 L575.96 105.26 L577.76 103.41 L579.52 101.6 L581.23 99.83 L582.89 98.11 L584.49 96.43 L586.03 94.81 L587.5 93.26 L588.89 91.77 L590.21 90.35 L591.44 89.02 L592.58 87.76 L593.64 86.6 L594.59 85.52 L595.45 84.54 L596.21 83.66 L596.86 82.88 L597.4 82.21 L597.84 81.64 L598.16 81.18 L598.38 80.83 L598.48 80.6 L598.46 80.47 L598.33 80.47 L598.05 80.6 L597.65 80.86 L597.11 81.26 L596.45 81.79 L595.66 82.44 L594.75 83.23 L593.73 84.13 L592.59 85.15 L591.35 86.28 L590.01 87.52 L588.58 88.86 L587.05 90.29 L585.46 91.81 L583.79 93.41 L582.05 95.08 L580.27 96.81 L578.43 98.6 L576.56 100.44 L574.67 102.31 L572.75 104.21 L570.83 106.13 L568.9 108.06 L566.99 109.99 L565.09 111.92 L563.22 113.82 L561.39 115.69 L559.61 117.53 L557.88 119.33 L556.22 121.06 L554.62 122.74 L553.11 124.34 L551.68 125.87 L550.35 127.31 L549.11 128.65 L547.98 129.9 L546.97 131.04 L546.07 132.06 L545.29 132.97 L544.63 133.76 L544.11 134.43 L543.71 134.96 L543.45 135.37 L543.32 135.64 L543.33 135.78 L543.48 135.78 L543.78 135.62 L544.24 135.31 L544.84 134.85 L545.59 134.24 L546.47 133.49 L547.49 132.6 L548.64 131.57 L549.9 130.42 L551.28 129.14 L552.76 127.76 L554.33 126.27 L555.99 124.69 L557.71 123.03 L559.5 121.3 L561.33 119.51 L563.2 117.66 L565.1 115.79 L567.01 113.88 L568.92 111.97 L570.82 110.05 L572.69 108.15 L574.52 106.27 L576.31 104.43 L578.04 102.64 L579.69 100.91 L581.27 99.25 L582.75 97.67 L584.13 96.19 L585.4 94.81 L586.55 93.54 L587.57 92.39 L588.46 91.37 L589.21 90.48 L589.82 89.73 L590.28 89.13 L590.59 88.67 L590.74 88.37 L590.75 88.22 L590.57 88.23 L590.22 88.43 L589.68 88.81 L588.97 89.37 L588.1 90.11 L587.06 91.01 L585.87 92.08 L584.53 93.29 L583.08 94.64 L581.5 96.13 L579.83 97.72 L578.06 99.41 L576.23 101.19 L574.35 103.04 L572.43 104.93 L570.49 106.86 L568.55 108.81 L566.62 110.76 L564.73 112.68 L562.9 114.57 L561.12 116.41 L559.43 118.17 L557.85 119.85 L556.37 121.43 L555.02 122.9 L553.81 124.23 L552.75 125.43 L551.85 126.47 L551.11 127.35 L550.55 128.06 L550.17 128.6 L549.98 128.95 L549.96 129.12 L550.16 129.1 L550.57 128.85 L551.2 128.38 L552.03 127.71 L553.05 126.83 L554.26 125.75 L555.63 124.5 L557.15 123.09 L558.81 121.53 L560.57 119.84 L562.42 118.05 L564.33 116.18 L566.28 114.25 L568.25 112.28 L570.21 110.31 L572.14 108.35 L574 106.43 L575.79 104.58 L577.47 102.81 L579.02 101.15 L580.43 99.63 L581.68 98.25 L582.75 97.04 L583.63 96.01 L584.3 95.18 L584.76 94.55 L585.01 94.14 L585.04 93.94 L584.82 93.98 L584.35 94.28 L583.63 94.84 L582.68 95.63 L581.51 96.66 L580.14 97.9 L578.6 99.33 L576.91 100.92 L575.1 102.66 L573.2 104.5 L571.25 106.43 L569.28 108.39 L567.31 110.38 L565.4 112.33 L563.56 114.24 L561.83 116.05 L560.24 117.74 L558.81 119.29 L557.58 120.66 L556.56 121.83 L555.76 122.79 L555.21 123.51 L554.91 123.98 L554.87 124.2 L555.11 124.14 L555.63 123.8 L556.42 123.17 L557.47 122.28 L558.75 121.14 L560.23 119.78 L561.89 118.22 L563.67 116.51 L565.55 114.68 L567.48 112.77 L569.42 110.82 L571.32 108.89 L573.15 107 L574.86 105.21 L576.41 103.55 L577.77 102.06 L578.9 100.78 L579.79 99.73 L580.42 98.94 L580.76 98.41 L580.81 98.18 L580.52 98.27 L579.86 98.74 L578.85 99.57 L577.53 100.73 L575.94 102.19 L574.14 103.89 L572.18 105.78 L570.14 107.79 L568.08 109.85 L566.08 111.9 L564.2 113.86 L562.5 115.67 L561.05 117.27 L559.89 118.59 L559.06 119.6 L558.59 120.26 L558.51 120.56 L558.82 120.45 L559.54 119.92 L560.63 119.01 L562.05 117.74 L563.73 116.17 L565.6 114.37 L567.59 112.43 L569.59 110.42 L571.53 108.43 L573.32 106.55 L574.88 104.86 L576.15 103.44 L577.06 102.34 L577.58 101.62 L577.69 101.31 L577.34 101.45 L576.54 102.05 L575.32 103.1 L573.76 104.52 L571.95 106.24 L569.99 108.15 L568.01 110.14 L566.1 112.11 L564.39 113.92 L562.97 115.49 L561.93 116.71 L561.32 117.51 L561.19 117.86 L561.59 117.69 L562.53 116.95 L563.94 115.71 L565.7 114.06 L567.67 112.15 L569.69 110.13 L571.6 108.15 L573.23 106.39 L574.47 104.97 L575.21 104.03 L575.38 103.63 L575.03 103.77 L574.22 104.41 L573 105.47 L571.49 106.88 L569.79 108.52 L568.05 110.26 L566.42 111.96 L565.01 113.48 L563.95 114.7 L563.32 115.52 L563.18 115.87 L563.48 115.75 L564.19 115.21 L565.23 114.3 L566.54 113.09 L568 111.67 L569.49 110.18 L570.9 108.71 L572.11 107.4 L573.01 106.35 L573.55 105.65 L573.67 105.34 L573.41 105.44 L572.8 105.9 L571.89 106.68 L570.77 107.72 L569.51 108.94 L568.23 110.22 L567.02 111.48 L565.98 112.61 L565.21 113.52 L564.75 114.13 L564.65 114.39 L564.88 114.31 L565.4 113.92 L566.18 113.25 L567.15 112.36 L568.24 111.31 L569.34 110.21 L570.38 109.12 L571.27 108.15 L571.93 107.37 L572.33 106.84 L572.41 106.61 L572.21 106.68 L571.75 107.01 L571.08 107.59 L570.24 108.35 L569.31 109.25 L568.36 110.2 L567.47 111.13 L566.71 111.97 L566.14 112.65 L565.8 113.1 L565.73 113.3 L565.91 113.25 L566.3 112.96 L566.88 112.47 L567.6 111.81 L568.41 111.05 L569.22 110.23 L569.99 109.42 L570.64 108.7 L571.13 108.12 L571.42 107.72 L571.47 107.55 L571.32 107.59 L570.98 107.84 L570.48 108.26 L569.86 108.82 L569.17 109.48 L568.46 110.19 L567.81 110.88 L567.24 111.5 L566.83 112 L566.58 112.34 L566.54 112.5 L566.67 112.46 L566.97 112.25 L567.4 111.89 L567.93 111.41 L568.53 110.84 L569.13 110.24 L569.7 109.64 L570.18 109.1 L570.54 108.67 L570.75 108.37 L570.78 108.24 L570.67 108.27 L570.41 108.45 L570.04 108.76 L569.57 109.17 L569.06 109.66 L568.54 110.18 L568.06 110.69 L567.64 111.15 L567.34 111.53 L567.16 111.78 L567.13 111.9 L567.23 111.88 L567.46 111.73 L567.78 111.46 L568.18 111.11 L568.62 110.69 L569.06 110.24 L569.48 109.8 L569.84 109.4 L570.1 109.08 L570.25 108.86 L570.27 108.75 L570.18 108.77 L569.99 108.9 L569.71 109.13 L569.37 109.43 L568.99 109.79 L568.61 110.18 L568.25 110.56 L567.94 110.9 L567.72 111.18 L567.59 111.37 L567.57 111.46 L567.65 111.45 L567.82 111.34 L568.06 111.14 L568.35 110.88 L568.68 110.57 L569.01 110.24 L569.32 109.92 L569.58 109.62 L569.77 109.38 L569.88 109.21 L569.89 109.13" fill="none" stroke="url(#g2)" stroke-width="1.6" stroke-linecap="round" stroke-linejoin="round"/>
<path d="M69.8 346.5 V602.2 H325.4" fill="none" stroke="#585858" stroke-width="1"/>
<path d="M69.8 346.5 H325.4 V602.2" fill="none" stroke="#7a7a7a" stroke-width="1"/>
<path d="M69.8 594.69h1.4M69.8 583.9h2.4M69.8 573.11h1.4M69.8 562.32h1.4M69.8 551.53h1.4M69.8 540.74h1.4M69.8 529.95h2.4M69.8 519.16h1.4M69.8 508.37h1.4M69.8 497.58h1.4M69.8 486.79h1.4M69.8 476h2.4M69.8 465.21h1.4M69.8 454.42h1.4M69.8 443.63h1.4M69.8 432.84h1.4M69.8 422.05h2.4M69.8 411.26h1.4M69.8 400.47h1.4M69.8 389.68h1.4M69.8 378.89h1.4M69.8 368.1h2.4M69.8 357.31h1.4" stroke="#585858" stroke-width="0.8" fill="none"/>
<path d="M74.7 602.2v-2.4M84.29 602.2v-1.4M93.88 602.2v-1.4M103.47 602.2v-1.4M113.06 602.2v-1.4M122.65 602.2v-2.4M132.24 602.2v-1.4M141.83 602.2v-1.4M151.42 602.2v-1.4M161.01 602.2v-1.4M170.6 602.2v-2.4M180.19 602.2v-1.4M189.78 602.2v-1.4M199.37 602.2v-1.4M208.96 602.2v-1.4M218.55 602.2v-2.4M228.14 602.2v-1.4M237.73 602.2v-1.4M247.32 602.2v-1.4M256.91 602.2v-1.4M266.5 602.2v-2.4M276.09 602.2v-1.4M285.68 602.2v-1.4M295.27 602.2v-1.4M304.86 602.2v-1.4M314.45 602.2v-2.4M324.04 602.2v-1.4" stroke="#585858" stroke-width="0.8" fill="none"/>
<text x="36.4" y="586.8" class="t" font-size="7.6" textLength="30.1" lengthAdjust="spacing">1.×10<tspan dy="-3.5" font-size="6.84">−7</tspan></text>
<text x="32.1" y="532.85" class="t" font-size="7.6" textLength="34.4" lengthAdjust="spacing">1.5×10<tspan dy="-3.5" font-size="6.84">−7</tspan></text>
<text x="36.4" y="478.9" class="t" font-size="7.6" textLength="30.1" lengthAdjust="spacing">2.×10<tspan dy="-3.5" font-size="6.84">−7</tspan></text>
<text x="32.1" y="424.95" class="t" font-size="7.6" textLength="34.4" lengthAdjust="spacing">2.5×10<tspan dy="-3.5" font-size="6.84">−7</tspan></text>
<text x="36.4" y="371" class="t" font-size="7.6" textLength="30.1" lengthAdjust="spacing">3.×10<tspan dy="-3.5" font-size="6.84">−7</tspan></text>
<text x="74.7" y="612" text-anchor="middle" class="t" font-size="7.6">0.00001</text>
<text x="122.65" y="612" text-anchor="middle" class="t" font-size="7.6">0.000015</text>
<text x="170.6" y="612" text-anchor="middle" class="t" font-size="7.6">0.00002</text>
<text x="218.55" y="612" text-anchor="middle" class="t" font-size="7.6">0.000025</text>
<text x="266.5" y="612" text-anchor="middle" class="t" font-size="7.6">0.00003</text>
<text x="314.45" y="612" text-anchor="middle" class="t" font-size="7.6">0.000035</text>
<text x="92" y="635.6" class="b" font-size="12.7" textLength="180" lengthAdjust="spacingAndGlyphs">Host humans exposed in Thais</text>
<text transform="translate(20.3 631.8) rotate(-90)" class="b" font-size="13.3" textLength="271.8" lengthAdjust="spacingAndGlyphs">Host humans quarantined in Foreign (tourist)</text>
<text x="174.5" y="663.5" text-anchor="middle" class="c">(i)</text>
<linearGradient id="g3" gradientUnits="userSpaceOnUse" x1="76.7" y1="0" x2="320.4" y2="0">
<stop offset="0" stop-color="#ff0000"/>
<stop offset="0.17" stop-color="#ffff00"/>
<stop offset="0.33" stop-color="#00ff00"/>
<stop offset="0.5" stop-color="#00ffff"/>
<stop offset="0.67" stop-color="#0000ff"/>
<stop offset="0.83" stop-color="#ff00ff"/>
<stop offset="1" stop-color="#ff0000"/>
</linearGradient>
<path d="M76.68 597.08 L77.22 596.69 L77.77 596.29 L78.31 595.89 L78.85 595.49 L79.38 595.09 L79.92 594.69 L80.46 594.28 L81 593.88 L81.53 593.48 L82.07 593.07 L82.61 592.67 L83.14 592.26 L83.67 591.86 L84.21 591.45 L84.74 591.04 L85.27 590.63 L85.81 590.22 L86.34 589.81 L86.87 589.4 L87.4 588.99 L87.93 588.58 L88.46 588.17 L88.99 587.76 L89.52 587.34 L90.05 586.93 L90.57 586.51 L91.1 586.1 L91.63 585.68 L92.15 585.27 L92.68 584.85 L93.2 584.43 L93.73 584.02 L94.25 583.6 L94.78 583.18 L95.3 582.76 L95.82 582.34 L96.35 581.92 L96.87 581.5 L97.39 581.08 L97.91 580.66 L98.43 580.23 L98.96 579.81 L99.48 579.39 L100 578.97 L100.52 578.54 L101.04 578.12 L101.56 577.69 L102.07 577.27 L102.59 576.84 L103.11 576.42 L103.63 575.99 L104.15 575.56 L104.66 575.14 L105.18 574.71 L105.7 574.28 L106.21 573.86 L106.73 573.43 L107.25 573 L107.76 572.57 L108.28 572.14 L108.79 571.71 L109.31 571.28 L109.82 570.85 L110.34 570.42 L110.85 569.99 L111.37 569.56 L111.88 569.13 L112.39 568.7 L112.91 568.27 L113.42 567.84 L113.93 567.41 L114.45 566.97 L114.96 566.54 L115.47 566.11 L115.99 565.68 L116.5 565.24 L117.01 564.81 L117.52 564.38 L118.03 563.94 L118.55 563.51 L119.06 563.08 L119.57 562.64 L120.08 562.21 L120.59 561.78 L121.1 561.34 L121.62 560.91 L122.13 560.48 L122.64 560.04 L123.15 559.61 L123.66 559.17 L124.17 558.74 L124.68 558.3 L125.2 557.87 L125.71 557.44 L126.22 557 L126.73 556.57 L127.24 556.13 L127.75 555.7 L128.26 555.26 L128.77 554.83 L129.28 554.39 L129.8 553.96 L130.31 553.53 L130.82 553.09 L131.33 552.66 L131.84 552.22 L132.35 551.79 L132.86 551.36 L133.38 550.92 L133.89 550.49 L134.4 550.05 L134.91 549.62 L135.42 549.19 L135.94 548.75 L136.45 548.32 L136.96 547.89 L137.47 547.45 L137.99 547.02 L138.5 546.59 L139.01 546.16 L139.53 545.72 L140.04 545.29 L140.55 544.86 L141.07 544.43 L141.58 544 L142.09 543.57 L142.61 543.14 L143.12 542.71 L143.64 542.27 L144.15 541.84 L144.67 541.41 L145.18 540.98 L145.7 540.55 L146.21 540.12 L146.73 539.69 L147.24 539.26 L147.76 538.83 L148.27 538.4 L148.79 537.97 L149.3 537.54 L149.82 537.12 L150.34 536.69 L150.85 536.26 L151.37 535.83 L151.88 535.4 L152.4 534.97 L152.91 534.54 L153.43 534.11 L153.94 533.68 L154.46 533.25 L154.98 532.82 L155.49 532.39 L156.01 531.96 L156.52 531.53 L157.04 531.1 L157.55 530.67 L158.07 530.24 L158.58 529.81 L159.1 529.38 L159.61 528.95 L160.13 528.52 L160.64 528.09 L161.16 527.66 L161.67 527.23 L162.19 526.8 L162.7 526.37 L163.22 525.94 L163.73 525.51 L164.24 525.08 L164.76 524.64 L165.27 524.21 L165.78 523.78 L166.3 523.35 L166.81 522.91 L167.32 522.48 L167.83 522.05 L168.35 521.62 L168.86 521.18 L169.37 520.75 L169.88 520.31 L170.39 519.88 L170.9 519.44 L171.41 519.01 L171.92 518.57 L172.43 518.14 L172.94 517.7 L173.45 517.27 L173.96 516.83 L174.47 516.39 L174.98 515.95 L175.49 515.52 L175.99 515.08 L176.5 514.64 L177.01 514.2 L177.52 513.76 L178.02 513.32 L178.53 512.88 L179.03 512.44 L179.54 512 L180.04 511.56 L180.55 511.12 L181.05 510.67 L181.55 510.23 L182.06 509.79 L182.56 509.34 L183.06 508.9 L183.56 508.45 L184.07 508.01 L184.57 507.56 L185.07 507.11 L185.57 506.67 L186.07 506.22 L186.56 505.77 L187.06 505.32 L187.56 504.87 L188.06 504.42 L188.55 503.97 L189.05 503.52 L189.55 503.07 L190.04 502.62 L190.54 502.16 L191.03 501.71 L191.53 501.26 L192.02 500.8 L192.51 500.35 L193.01 499.9 L193.5 499.44 L193.99 498.99 L194.48 498.53 L194.98 498.07 L195.47 497.62 L195.96 497.16 L196.45 496.7 L196.94 496.25 L197.43 495.79 L197.92 495.33 L198.41 494.87 L198.9 494.41 L199.39 493.95 L199.88 493.49 L200.37 493.03 L200.86 492.58 L201.34 492.12 L201.83 491.65 L202.32 491.19 L202.81 490.73 L203.3 490.27 L203.78 489.81 L204.27 489.35 L204.76 488.89 L205.25 488.43 L205.73 487.97 L206.22 487.5 L206.71 487.04 L207.19 486.58 L207.68 486.12 L208.17 485.66 L208.65 485.19 L209.14 484.73 L209.62 484.27 L210.11 483.81 L210.6 483.34 L211.08 482.88 L211.57 482.42 L212.06 481.96 L212.54 481.49 L213.03 481.03 L213.51 480.57 L214 480.11 L214.49 479.64 L214.97 479.18 L215.46 478.72 L215.95 478.26 L216.43 477.79 L216.92 477.33 L217.41 476.87 L217.89 476.41 L218.38 475.95 L218.87 475.49 L219.35 475.02 L219.84 474.56 L220.33 474.1 L220.81 473.64 L221.3 473.18 L221.79 472.72 L222.28 472.25 L222.76 471.79 L223.25 471.33 L223.74 470.87 L224.22 470.41 L224.71 469.95 L225.2 469.48 L225.68 469.02 L226.17 468.56 L226.66 468.1 L227.14 467.64 L227.63 467.17 L228.12 466.71 L228.6 466.25 L229.09 465.79 L229.57 465.32 L230.06 464.86 L230.54 464.4 L231.03 463.93 L231.51 463.47 L232 463.01 L232.48 462.54 L232.97 462.08 L233.45 461.61 L233.94 461.15 L234.42 460.69 L234.9 460.22 L235.39 459.75 L235.87 459.29 L236.35 458.82 L236.83 458.36 L237.31 457.89 L237.8 457.42 L238.28 456.96 L238.76 456.49 L239.24 456.02 L239.72 455.55 L240.2 455.08 L240.68 454.62 L241.16 454.15 L241.63 453.68 L242.11 453.21 L242.59 452.74 L243.07 452.26 L243.54 451.79 L244.02 451.32 L244.5 450.85 L244.97 450.38 L245.45 449.9 L245.92 449.43 L246.4 448.96 L246.87 448.48 L247.34 448.01 L247.82 447.53 L248.29 447.05 L248.76 446.58 L249.23 446.1 L249.7 445.62 L250.17 445.14 L250.64 444.66 L251.11 444.18 L251.58 443.7 L252.04 443.22 L252.51 442.74 L252.98 442.26 L253.44 441.78 L253.91 441.29 L254.37 440.81 L254.83 440.33 L255.3 439.84 L255.76 439.35 L256.22 438.87 L256.68 438.38 L257.14 437.89 L257.6 437.4 L258.06 436.92 L258.52 436.43 L258.98 435.94 L259.44 435.44 L259.89 434.95 L260.35 434.46 L260.8 433.97 L261.26 433.48 L261.71 432.98 L262.17 432.49 L262.62 431.99 L263.07 431.5 L263.52 431 L263.97 430.5 L264.42 430.01 L264.87 429.51 L265.32 429.01 L265.77 428.51 L266.22 428.01 L266.67 427.51 L267.11 427.01 L267.56 426.51 L268.01 426.01 L268.45 425.51 L268.9 425 L269.34 424.5 L269.78 424 L270.23 423.49 L270.67 422.99 L271.11 422.48 L271.55 421.98 L271.99 421.47 L272.43 420.96 L272.87 420.46 L273.31 419.95 L273.75 419.44 L274.19 418.93 L274.62 418.42 L275.06 417.91 L275.5 417.4 L275.93 416.89 L276.37 416.38 L276.8 415.87 L277.24 415.36 L277.67 414.85 L278.1 414.33 L278.54 413.82 L278.97 413.31 L279.4 412.79 L279.83 412.28 L280.26 411.76 L280.69 411.25 L281.12 410.73 L281.55 410.21 L281.98 409.7 L282.4 409.18 L282.83 408.66 L283.26 408.14 L283.69 407.63 L284.11 407.11 L284.54 406.59 L284.96 406.07 L285.39 405.55 L285.81 405.03 L286.23 404.51 L286.66 403.99 L287.08 403.46 L287.5 402.94 L287.92 402.42 L288.34 401.9 L288.76 401.38 L289.18 400.85 L289.6 400.33 L290.02 399.8 L290.44 399.28 L290.86 398.76 L291.28 398.23 L291.69 397.71 L292.11 397.18 L292.53 396.65 L292.94 396.13 L293.36 395.6 L293.77 395.07 L294.19 394.55 L294.6 394.02 L295.02 393.49 L295.43 392.96 L295.84 392.44 L296.26 391.91 L296.67 391.38 L297.08 390.85 L297.49 390.32 L297.9 389.79 L298.31 389.26 L298.72 388.73 L299.13 388.2 L299.54 387.67 L299.95 387.14 L300.36 386.61 L300.76 386.07 L301.17 385.54 L301.58 385.01 L301.99 384.48 L302.39 383.95 L302.8 383.41 L303.2 382.88 L303.61 382.35 L304.01 381.81 L304.41 381.28 L304.82 380.74 L305.22 380.21 L305.62 379.67 L306.02 379.13 L306.42 378.59 L306.82 378.05 L307.21 377.52 L307.61 376.97 L308 376.43 L308.4 375.89 L308.79 375.35 L309.18 374.8 L309.57 374.26 L309.96 373.71 L310.35 373.17 L310.74 372.62 L311.13 372.07 L311.51 371.52 L311.89 370.96 L312.27 370.41 L312.65 369.86 L313.03 369.3 L313.41 368.74 L313.78 368.18 L314.16 367.62 L314.53 367.06 L314.9 366.5 L315.27 365.93 L315.63 365.36 L316 364.8 L316.36 364.23 L316.72 363.65 L317.08 363.08 L317.44 362.5 L317.79 361.93 L318.14 361.35 L318.49 360.76 L318.82 360.17 L319.13 359.58 L319.42 358.97 L319.68 358.36 L319.91 357.73 L320.09 357.09 L320.23 356.44 L320.32 355.76 L320.35 355.08 L320.31 354.39 L320.19 353.72 L319.98 353.08 L319.68 352.49 L319.26 351.98 L318.75 351.53 L318.15 351.17 L317.5 350.88 L316.82 350.66 L316.12 350.52 L315.43 350.45 L314.76 350.46 L314.09 350.52 L313.44 350.64 L312.79 350.8 L312.15 351 L311.52 351.23 L310.89 351.49 L310.27 351.76 L309.65 352.04 L309.03 352.32 L308.42 352.6 L307.81 352.89 L307.2 353.18 L306.59 353.48 L305.98 353.78 L305.38 354.08 L304.78 354.39 L304.18 354.7 L303.58 355.01 L302.99 355.33 L302.4 355.64 L301.81 355.97 L301.22 356.29 L300.63 356.62 L300.05 356.95 L299.46 357.28 L298.88 357.62 L298.3 357.96 L297.73 358.3 L297.15 358.64 L296.58 358.99 L296.01 359.34 L295.44 359.7 L294.87 360.05 L294.3 360.41 L293.74 360.77 L293.17 361.13 L292.61 361.5 L292.05 361.86 L291.49 362.23 L290.94 362.61 L290.38 362.98 L289.83 363.36 L289.27 363.74 L288.72 364.12 L288.17 364.5 L287.62 364.88 L287.08 365.27 L286.53 365.66 L285.99 366.05 L285.44 366.44 L284.9 366.84 L284.36 367.23 L283.82 367.63 L283.29 368.03 L282.75 368.43 L282.21 368.84 L281.68 369.24 L281.14 369.65 L280.61 370.05 L280.08 370.46 L279.55 370.87 L279.02 371.28 L278.49 371.7 L277.96 372.11 L277.44 372.53 L276.91 372.94 L276.38 373.36 L275.86 373.78 L275.34 374.2 L274.81 374.62 L274.29 375.04 L273.77 375.46 L273.25 375.89 L272.73 376.31 L272.21 376.74 L271.69 377.16 L271.17 377.59 L270.65 378.02 L270.14 378.44 L269.62 378.87 L269.1 379.3 L268.59 379.73 L268.07 380.16 L267.56 380.59 L267.04 381.02 L266.53 381.45 L266.02 381.89 L265.5 382.32 L264.99 382.75 L264.48 383.19 L263.97 383.62 L263.46 384.06 L262.95 384.49 L262.44 384.93 L261.93 385.36 L261.42 385.8 L260.91 386.24 L260.4 386.68 L259.89 387.12 L259.39 387.55 L258.88 387.99 L258.37 388.43 L257.87 388.87 L257.36 389.32 L256.86 389.76 L256.35 390.2 L255.85 390.64 L255.35 391.09 L254.84 391.53 L254.34 391.97 L253.84 392.42 L253.34 392.86 L252.84 393.31 L252.34 393.76 L251.84 394.2 L251.34 394.65 L250.84 395.1 L250.34 395.55 L249.84 396 L249.34 396.45 L248.84 396.89 L248.35 397.35 L247.85 397.8 L247.35 398.25 L246.86 398.7 L246.36 399.15 L245.87 399.6 L245.37 400.06 L244.88 400.51 L244.38 400.96 L243.89 401.42 L243.4 401.87 L242.9 402.33 L242.41 402.79 L241.92 403.24 L241.43 403.7 L240.94 404.16 L240.45 404.61 L239.96 405.07 L239.47 405.53 L238.98 405.99 L238.49 406.45 L238 406.91 L237.52 407.37 L237.03 407.83 L236.54 408.29 L236.06 408.75 L235.57 409.22 L235.08 409.68 L234.6 410.14 L234.11 410.61 L233.63 411.07 L233.15 411.53 L232.66 412 L232.18 412.47 L231.7 412.93 L231.21 413.4 L230.73 413.86 L230.25 414.33 L229.77 414.8 L229.29 415.27 L228.81 415.73 L228.33 416.2 L227.85 416.67 L227.37 417.14 L226.89 417.61 L226.41 418.08 L225.93 418.55 L225.46 419.02 L224.98 419.5 L224.5 419.97 L224.03 420.44 L223.55 420.91 L223.08 421.39 L222.6 421.86 L222.13 422.33 L221.65 422.81 L221.18 423.28 L220.7 423.76 L220.23 424.23 L219.76 424.71 L219.28 425.19 L218.81 425.66 L218.34 426.14 L217.87 426.62 L217.4 427.1 L216.93 427.57 L216.46 428.05 L215.99 428.53 L215.52 429.01 L215.05 429.49 L214.58 429.97 L214.11 430.45 L213.64 430.93 L213.18 431.41 L212.71 431.89 L212.24 432.38 L211.78 432.86 L211.31 433.34 L210.84 433.82 L210.38 434.31 L209.91 434.79 L209.45 435.28 L208.99 435.76 L208.52 436.24 L208.06 436.73 L207.59 437.22 L207.13 437.7 L206.67 438.19 L206.21 438.67 L205.75 439.16 L205.28 439.65 L204.82 440.14 L204.36 440.62 L203.9 441.11 L203.44 441.6 L202.98 442.09 L202.52 442.58 L202.06 443.07 L201.61 443.56 L201.15 444.05 L200.69 444.54 L200.23 445.03 L199.77 445.52 L199.32 446.01 L198.86 446.5 L198.4 446.99 L197.95 447.49 L197.49 447.98 L197.04 448.47 L196.58 448.96 L196.13 449.46 L195.67 449.95 L195.22 450.45 L194.77 450.94 L194.31 451.44 L193.86 451.93 L193.41 452.43 L192.95 452.92 L192.5 453.42 L192.05 453.91 L191.6 454.41 L191.15 454.91 L190.7 455.4 L190.25 455.9 L189.8 456.4 L189.35 456.9 L188.9 457.39 L188.45 457.89 L188 458.39 L187.55 458.89 L187.1 459.39 L186.66 459.89 L186.21 460.39 L185.76 460.89 L185.31 461.39 L184.87 461.89 L184.42 462.39 L183.98 462.89 L183.53 463.39 L183.08 463.89 L182.64 464.4 L182.2 464.9 L181.75 465.4 L181.31 465.9 L180.86 466.41 L180.42 466.91 L179.98 467.41 L179.53 467.91 L179.09 468.42 L178.65 468.92 L178.2 469.43 L177.76 469.93 L177.32 470.43 L176.88 470.94 L176.44 471.44 L176 471.95 L175.55 472.45 L175.11 472.96 L174.67 473.47 L174.23 473.97 L173.79 474.48 L173.35 474.98 L172.91 475.49 L172.47 476 L172.03 476.5 L171.6 477.01 L171.16 477.52 L170.72 478.02 L170.28 478.53 L169.84 479.04 L169.4 479.55 L168.97 480.05 L168.53 480.56 L168.09 481.07 L167.65 481.58 L167.22 482.09 L166.78 482.6 L166.34 483.1 L165.9 483.61 L165.47 484.12 L165.03 484.63 L164.59 485.14 L164.16 485.65 L163.72 486.16 L163.29 486.67 L162.85 487.18 L162.42 487.69 L161.98 488.2 L161.54 488.71 L161.11 489.22 L160.67 489.73 L160.24 490.24 L159.8 490.75 L159.37 491.26 L158.93 491.77 L158.5 492.28 L158.06 492.79 L157.63 493.3 L157.2 493.81 L156.76 494.32 L156.33 494.83 L155.89 495.34 L155.46 495.85 L155.03 496.36 L154.59 496.88 L154.16 497.39 L153.73 497.9 L153.3 498.41 L152.87 498.93 L152.44 499.44 L152.01 499.96 L151.58 500.47 L151.15 500.99 L150.72 501.5 L150.3 502.02 L149.87 502.54 L149.45 503.05 L149.02 503.57 L148.6 504.09 L148.18 504.61 L147.76 505.13 L147.34 505.66 L146.92 506.18 L146.5 506.7 L146.09 507.23 L145.67 507.76 L145.26 508.28 L144.85 508.81 L144.44 509.34 L144.03 509.87 L143.62 510.4 L143.22 510.94 L142.81 511.47 L142.41 512.01 L142.01 512.54 L141.61 513.08 L141.22 513.62 L140.82 514.16 L140.43 514.71 L140.04 515.25 L139.65 515.8 L139.26 516.35 L138.88 516.89 L138.5 517.45 L138.12 518 L137.74 518.55 L137.36 519.11 L136.99 519.67 L136.62 520.23 L136.25 520.79 L135.89 521.35 L135.52 521.92 L135.16 522.49 L134.8 523.06 L134.45 523.63 L134.1 524.2 L133.75 524.78 L133.4 525.36 L133.05 525.94 L132.71 526.52 L132.37 527.11 L132.04 527.7 L131.71 528.29 L131.38 528.88 L131.05 529.47 L130.73 530.07 L130.41 530.67 L130.11 531.27 L129.82 531.88 L129.54 532.48 L129.28 533.09 L129.04 533.7 L128.83 534.31 L128.65 534.92 L128.53 535.52 L128.69 536.02 L129.29 536.33 L130.15 536.46 L131.02 536.44 L131.75 536.28 L132.38 536.01 L132.92 535.67 L133.42 535.27 L133.91 534.86 L134.41 534.45 L134.92 534.06 L135.45 533.67 L135.98 533.28 L136.53 532.9 L137.09 532.53 L137.66 532.16 L138.22 531.79 L138.8 531.42 L139.37 531.05 L139.94 530.68 L140.5 530.3 L141.06 529.92 L141.62 529.54 L142.18 529.15 L142.73 528.76 L143.28 528.37 L143.82 527.97 L144.36 527.57 L144.9 527.16 L145.44 526.75 L145.97 526.34 L146.5 525.93 L147.03 525.51 L147.55 525.09 L148.07 524.67 L148.59 524.24 L149.1 523.81 L149.62 523.38 L150.13 522.95 L150.64 522.51 L151.15 522.07 L151.65 521.64 L152.15 521.19 L152.66 520.75 L153.15 520.3 L153.65 519.86 L154.15 519.41 L154.64 518.96 L155.14 518.5 L155.63 518.05 L156.12 517.59 L156.61 517.14 L157.1 516.68 L157.58 516.22 L158.07 515.76 L158.55 515.3 L159.04 514.84 L159.52 514.38 L160.01 513.92 L160.49 513.45 L160.97 512.99 L161.45 512.52 L161.94 512.06 L162.42 511.59 L162.9 511.13 L163.38 510.66 L163.86 510.2 L164.34 509.74 L164.83 509.27 L165.31 508.81 L165.79 508.34 L166.28 507.88 L166.76 507.42 L167.24 506.95 L167.73 506.49 L168.21 506.03 L168.7 505.57 L169.19 505.11 L169.67 504.65 L170.16 504.19 L170.64 503.73 L171.13 503.26 L171.62 502.8 L172.11 502.34 L172.59 501.88 L173.08 501.42 L173.57 500.96 L174.06 500.51 L174.54 500.05 L175.03 499.59 L175.52 499.13 L176.01 498.67 L176.5 498.21 L176.99 497.75 L177.47 497.29 L177.96 496.83 L178.45 496.37 L178.94 495.91 L179.42 495.45 L179.91 494.99 L180.4 494.52 L180.89 494.06 L181.37 493.6 L181.86 493.14 L182.35 492.68 L182.83 492.22 L183.32 491.75 L183.8 491.29 L184.29 490.83 L184.77 490.36 L185.26 489.9 L185.74 489.43 L186.23 488.97 L186.71 488.5 L187.19 488.04 L187.67 487.57 L188.16 487.1 L188.64 486.63 L189.12 486.17 L189.6 485.7 L190.08 485.23 L190.55 484.76 L191.03 484.29 L191.51 483.81 L191.99 483.34 L192.46 482.87 L192.94 482.39 L193.41 481.92 L193.89 481.44 L194.36 480.96 L194.83 480.49 L195.3 480.01 L195.77 479.53 L196.24 479.05 L196.71 478.57 L197.18 478.09 L197.65 477.6 L198.11 477.12 L198.58 476.63 L199.04 476.15 L199.5 475.66 L199.97 475.17 L200.43 474.69 L200.89 474.2 L201.35 473.71 L201.81 473.22 L202.27 472.73 L202.73 472.24 L203.19 471.75 L203.65 471.25 L204.1 470.76 L204.56 470.27 L205.02 469.78 L205.47 469.28 L205.93 468.79 L206.38 468.29 L206.83 467.8 L207.29 467.3 L207.74 466.81 L208.19 466.31 L208.65 465.82 L209.1 465.32 L209.55 464.82 L210 464.33 L210.45 463.83 L210.9 463.34 L211.35 462.84 L211.8 462.34 L212.25 461.85 L212.7 461.35 L213.15 460.85 L213.6 460.36 L214.05 459.86 L214.5 459.36 L214.95 458.87 L215.4 458.37 L215.85 457.88 L216.29 457.38 L216.74 456.89 L217.19 456.39 L217.64 455.9 L218.08 455.4 L218.53 454.9 L218.97 454.41 L219.42 453.91 L219.86 453.41 L220.29 452.9 L220.73 452.4 L221.16 451.89 L221.59 451.38 L222.02 450.86 L222.44 450.35 L222.86 449.82 L223.27 449.3 L223.68 448.77 L224.09 448.23 L224.48 447.69 L224.88 447.15 L225.27 446.6 L225.65 446.04 L226.02 445.48 L226.39 444.91 L226.76 444.33 L227.11 443.75 L227.46 443.16 L227.8 442.56 L228.13 441.95 L228.46 441.34 L228.77 440.72 L229.08 440.09 L229.38 439.45 L229.66 438.8 L229.87 438.16 L229.93 437.57 L229.75 437.04 L229.32 436.6 L228.7 436.25 L227.98 436.02 L227.26 435.9 L226.57 435.91 L225.92 436.01 L225.3 436.21 L224.71 436.49 L224.14 436.82 L223.58 437.21 L223.04 437.62 L222.51 438.06 L221.99 438.5 L221.46 438.94 L220.94 439.38 L220.42 439.83 L219.9 440.27 L219.38 440.72 L218.87 441.17 L218.36 441.61 L217.85 442.06 L217.34 442.51 L216.83 442.96 L216.33 443.41 L215.83 443.87 L215.32 444.32 L214.83 444.77 L214.33 445.23 L213.83 445.68 L213.34 446.14 L212.85 446.6 L212.35 447.06 L211.86 447.52 L211.38 447.98 L210.89 448.44 L210.4 448.9 L209.92 449.36 L209.44 449.83 L208.96 450.29 L208.48 450.76 L208 451.22 L207.52 451.69 L207.04 452.16 L206.57 452.63 L206.09 453.1 L205.62 453.57 L205.15 454.04 L204.68 454.51 L204.21 454.98 L203.74 455.46 L203.27 455.93 L202.8 456.41 L202.34 456.88 L201.87 457.36 L201.4 457.84 L200.94 458.31 L200.47 458.79 L200.01 459.27 L199.55 459.75 L199.09 460.23 L198.62 460.72 L198.16 461.2 L197.7 461.68 L197.24 462.16 L196.78 462.65 L196.32 463.13 L195.86 463.62 L195.4 464.11 L194.94 464.59 L194.48 465.08 L194.02 465.57 L193.56 466.06 L193.1 466.55 L192.64 467.04 L192.19 467.53 L191.73 468.03 L191.27 468.52 L190.81 469.01 L190.35 469.51 L189.89 470 L189.43 470.49 L188.97 470.99 L188.51 471.49 L188.05 471.98 L187.59 472.48 L187.13 472.98 L186.67 473.48 L186.22 473.98 L185.76 474.47 L185.3 474.97 L184.84 475.47 L184.39 475.97 L183.93 476.47 L183.48 476.98 L183.02 477.48 L182.57 477.98 L182.12 478.48 L181.67 478.98 L181.22 479.48 L180.77 479.99 L180.33 480.49 L179.88 480.99 L179.44 481.5 L178.99 482 L178.55 482.5 L178.11 483.01 L177.67 483.51 L177.24 484.01 L176.8 484.52 L176.37 485.02 L175.94 485.52 L175.51 486.03 L175.08 486.53 L174.66 487.03 L174.24 487.54 L173.82 488.04 L173.4 488.54 L172.98 489.04 L172.57 489.55 L172.16 490.05 L171.75 490.55 L171.33 491.05 L170.91 491.55 L170.48 492.05 L170.04 492.55 L169.58 493.04 L169.11 493.54 L168.61 494.03 L168.09 494.51 L167.55 495 L166.97 495.48 L166.36 495.96 L165.75 496.44 L165.18 496.93 L164.69 497.44 L164.34 497.98 L164.18 498.56 L164.25 499.18 L164.53 499.79 L164.95 500.24 L165.45 500.44 L166 500.42 L166.6 500.24 L167.22 499.94 L167.85 499.57 L168.47 499.18 L169.09 498.78 L169.69 498.39 L170.29 497.99 L170.87 497.59 L171.45 497.19 L172.02 496.78 L172.58 496.38 L173.13 495.97 L173.68 495.56 L174.22 495.15 L174.75 494.74 L175.28 494.32 L175.8 493.9 L176.32 493.48 L176.83 493.06 L177.34 492.64 L177.84 492.21 L178.34 491.78 L178.83 491.35 L179.33 490.92 L179.82 490.48 L180.3 490.04 L180.79 489.6 L181.28 489.16 L181.76 488.71 L182.24 488.26 L182.73 487.81 L183.21 487.35 L183.69 486.9 L184.18 486.44 L184.66 485.97 L185.15 485.51 L185.64 485.04 L186.14 484.56 L186.63 484.09 L187.13 483.61 L187.62 483.13 L188.12 482.65 L188.61 482.16 L189.11 481.67 L189.6 481.18 L190.09 480.69 L190.57 480.2 L191.05 479.71 L191.53 479.22 L192 478.72 L192.46 478.23 L192.92 477.73 L193.37 477.23 L193.81 476.74 L194.24 476.24 L194.66 475.75 L195.07 475.25 L195.47 474.76 L195.86 474.27 L196.24 473.77 L196.61 473.28 L196.98 472.79 L197.35 472.29 L197.73 471.78 L198.13 471.26 L198.56 470.73 L199.01 470.19 L199.5 469.64 L200.03 469.06 L200.6 468.47 L201.16 467.86 L201.66 467.25 L202.06 466.65 L202.31 466.05 L202.36 465.47 L202.16 464.91 L201.71 464.41 L201.11 464.05 L200.48 463.9 L199.86 463.96 L199.25 464.2 L198.65 464.57 L198.07 465.03 L197.49 465.55 L196.93 466.08 L196.38 466.58 L195.84 467.06 L195.31 467.51 L194.79 467.95 L194.28 468.37 L193.77 468.78 L193.27 469.19 L192.77 469.59 L192.27 469.99 L191.76 470.4 L191.26 470.82 L190.75 471.24 L190.23 471.69 L189.71 472.15 L189.19 472.62 L188.67 473.09 L188.16 473.58 L187.65 474.06 L187.15 474.55 L186.67 475.04 L186.2 475.52 L185.76 476 L185.33 476.46 L184.93 476.92 L184.55 477.36 L184.2 477.79 L183.87 478.21 L183.54 478.63 L183.21 479.07 L182.85 479.52 L182.48 480.01 L182.06 480.53 L181.59 481.1 L181.05 481.72 L180.45 482.41 L179.76 483.16 L179.02 483.97 L178.35 484.73 L177.87 485.39 L177.68 485.84 L177.92 486.01 L178.54 485.87 L179.16 485.6 L179.75 485.28 L180.33 484.95 L180.9 484.59 L181.46 484.23 L182.02 483.85 L182.57 483.46 L183.11 483.07 L183.65 482.67 L184.19 482.27 L184.73 481.87 L185.26 481.46 L185.78 481.04 L186.31 480.63 L186.83 480.2 L187.35 479.78 L187.86 479.35 L188.37 478.91 L188.88 478.48 L189.39 478.04 L189.89 477.59 L190.39 477.15 L190.89 476.7 L191.39 476.24 L191.88 475.78 L192.37 475.32 L192.85 474.86 L193.33 474.39 L193.8 473.91 L194.25 473.42 L194.7 472.92 L195.13 472.42 L195.56 471.89 L195.97 471.34 L196.03 470.74 L195.42 470.85 L194.8 471.15 L194.22 471.49 L193.66 471.86 L193.12 472.24 L192.58 472.63 L192.04 473.03 L191.51 473.44 L190.98 473.85 L190.45 474.27 L189.93 474.7 L189.42 475.14 L188.91 475.57 L188.41 476.02 L187.91 476.46 L187.41 476.92 L186.93 477.38 L186.45 477.85 L185.99 478.33 L185.53 478.83 L185.09 479.34 L184.71 479.89 L185.06 480.13 L185.66 479.8 L186.23 479.44 L186.78 479.05 L187.31 478.66 L187.84 478.25 L188.36 477.82 L188.87 477.39 L189.39 476.94 L189.89 476.49 L190.37 476.03 L190.84 475.57 L191.28 475.1 L191.76 474.46 L191.35 474.45 L190.78 474.75 L190.23 475.16 L189.69 475.61 L189.18 476.03 L188.68 476.46 L188.19 476.91 L187.71 477.4 L187.4 477.92 L187.99 477.66 L188.51 477.26 L189.04 476.83 L189.53 476.38 L190 475.88 L189.69 475.89 L189.18 476.28 L188.63 476.77 L188.6 477.01 L189.15 476.57 L189.31 476.29 L188.79 476.76" fill="none" stroke="url(#g3)" stroke-width="1.6" stroke-linecap="round" stroke-linejoin="round"/>
<path d="M411.9 344.5 V603.9 H671.6" fill="none" stroke="#585858" stroke-width="1"/>
<path d="M671.6 344.5 V603.9" fill="none" stroke="#7a7a7a" stroke-width="1"/>
<path d="M411.9 599.4h2.4M411.9 587.57h1.4M411.9 575.73h1.4M411.9 563.9h1.4M411.9 552.06h1.4M411.9 540.23h2.4M411.9 528.4h1.4M411.9 516.56h1.4M411.9 504.73h1.4M411.9 492.89h1.4M411.9 481.06h2.4M411.9 469.23h1.4M411.9 457.39h1.4M411.9 445.56h1.4M411.9 433.72h1.4M411.9 421.89h2.4M411.9 410.06h1.4M411.9 398.22h1.4M411.9 386.39h1.4M411.9 374.55h1.4M411.9 362.72h2.4M411.9 350.89h1.4" stroke="#585858" stroke-width="0.8" fill="none"/>
<path d="M417.2 603.9v-2.4M426.34 603.9v-1.4M435.48 603.9v-1.4M444.62 603.9v-1.4M453.76 603.9v-1.4M462.9 603.9v-2.4M472.04 603.9v-1.4M481.18 603.9v-1.4M490.32 603.9v-1.4M499.46 603.9v-1.4M508.6 603.9v-2.4M517.74 603.9v-1.4M526.88 603.9v-1.4M536.02 603.9v-1.4M545.16 603.9v-1.4M554.3 603.9v-2.4M563.44 603.9v-1.4M572.58 603.9v-1.4M581.72 603.9v-1.4M590.86 603.9v-1.4M600 603.9v-2.4M609.14 603.9v-1.4M618.28 603.9v-1.4M627.42 603.9v-1.4M636.56 603.9v-1.4M645.7 603.9v-2.4M654.84 603.9v-1.4M663.98 603.9v-1.4" stroke="#585858" stroke-width="0.8" fill="none"/>
<text x="409.3" y="602.3" text-anchor="end" class="t" font-size="7.75">0</text>
<text x="379.2" y="543.13" class="t" font-size="7.75" textLength="30.1" lengthAdjust="spacing">1.×10<tspan dy="-3.56" font-size="6.98">−6</tspan></text>
<text x="379.2" y="483.96" class="t" font-size="7.75" textLength="30.1" lengthAdjust="spacing">2.×10<tspan dy="-3.56" font-size="6.98">−6</tspan></text>
<text x="379.2" y="424.79" class="t" font-size="7.75" textLength="30.1" lengthAdjust="spacing">3.×10<tspan dy="-3.56" font-size="6.98">−6</tspan></text>
<text x="379.2" y="365.62" class="t" font-size="7.75" textLength="30.1" lengthAdjust="spacing">4.×10<tspan dy="-3.56" font-size="6.98">−6</tspan></text>
<text x="417.2" y="613.7" text-anchor="middle" class="t" font-size="7.75">0.0000</text>
<text x="462.9" y="613.7" text-anchor="middle" class="t" font-size="7.75">0.0001</text>
<text x="508.6" y="613.7" text-anchor="middle" class="t" font-size="7.75">0.0002</text>
<text x="554.3" y="613.7" text-anchor="middle" class="t" font-size="7.75">0.0003</text>
<text x="600" y="613.7" text-anchor="middle" class="t" font-size="7.75">0.0004</text>
<text x="645.7" y="613.7" text-anchor="middle" class="t" font-size="7.75">0.0005</text>
<text x="419.6" y="637.6" class="b" font-size="14.6" textLength="198.3" lengthAdjust="spacingAndGlyphs">Infectious host humans in Thais</text>
<text transform="translate(363.2 617.5) rotate(-90)" class="b" font-size="14.5" textLength="265.5" lengthAdjust="spacingAndGlyphs">Infectious host humans in Foreign (tourist)</text>
<text x="530" y="663.7" text-anchor="middle" class="c">(j)</text>
<linearGradient id="g4" gradientUnits="userSpaceOnUse" x1="419.1" y1="0" x2="666.9" y2="0">
<stop offset="0" stop-color="#ff0000"/>
<stop offset="0.17" stop-color="#ffff00"/>
<stop offset="0.33" stop-color="#00ff00"/>
<stop offset="0.5" stop-color="#00ffff"/>
<stop offset="0.67" stop-color="#0000ff"/>
<stop offset="0.83" stop-color="#ff00ff"/>
<stop offset="1" stop-color="#ff0000"/>
</linearGradient>
<path d="M419.1 597 L419.67 596.59 L420.23 596.19 L420.8 595.78 L421.36 595.37 L421.92 594.95 L422.47 594.53 L423.03 594.11 L423.58 593.68 L424.13 593.26 L424.67 592.82 L425.22 592.39 L425.76 591.95 L426.3 591.51 L426.84 591.07 L427.37 590.63 L427.91 590.18 L428.44 589.74 L428.97 589.29 L429.5 588.84 L430.03 588.38 L430.56 587.93 L431.09 587.47 L431.62 587.02 L432.14 586.56 L432.67 586.1 L433.19 585.65 L433.72 585.19 L434.24 584.73 L434.77 584.27 L435.29 583.81 L435.81 583.35 L436.34 582.89 L436.86 582.43 L437.39 581.97 L437.91 581.52 L438.44 581.06 L438.97 580.6 L439.49 580.15 L440.02 579.69 L440.55 579.24 L441.08 578.79 L441.61 578.34 L442.15 577.89 L442.68 577.44 L443.22 577 L443.75 576.56 L444.29 576.12 L444.83 575.68 L445.38 575.24 L445.92 574.81 L446.47 574.38 L447.02 573.95 L447.57 573.53 L448.12 573.1 L448.67 572.68 L449.23 572.26 L449.78 571.84 L450.34 571.43 L450.9 571.01 L451.46 570.6 L452.02 570.19 L452.58 569.78 L453.14 569.37 L453.71 568.96 L454.27 568.56 L454.84 568.15 L455.41 567.74 L455.97 567.34 L456.54 566.94 L457.11 566.53 L457.68 566.13 L458.25 565.73 L458.82 565.33 L459.38 564.93 L459.95 564.53 L460.52 564.13 L461.09 563.72 L461.66 563.32 L462.23 562.92 L462.8 562.52 L463.37 562.12 L463.94 561.71 L464.5 561.31 L465.07 560.91 L465.64 560.5 L466.2 560.1 L466.77 559.69 L467.33 559.28 L467.89 558.87 L468.46 558.46 L469.02 558.05 L469.58 557.64 L470.14 557.22 L470.69 556.81 L471.25 556.39 L471.81 555.97 L472.36 555.55 L472.91 555.12 L473.46 554.7 L474.01 554.27 L474.56 553.84 L475.1 553.41 L475.64 552.97 L476.19 552.54 L476.73 552.1 L477.27 551.66 L477.81 551.22 L478.34 550.78 L478.88 550.34 L479.41 549.89 L479.95 549.44 L480.48 549 L481.01 548.55 L481.54 548.1 L482.07 547.65 L482.6 547.19 L483.13 546.74 L483.66 546.29 L484.19 545.83 L484.72 545.38 L485.24 544.92 L485.77 544.47 L486.29 544.01 L486.82 543.55 L487.35 543.1 L487.87 542.64 L488.4 542.18 L488.92 541.73 L489.45 541.27 L489.97 540.81 L490.5 540.35 L491.03 539.9 L491.55 539.44 L492.08 538.99 L492.6 538.53 L493.13 538.08 L493.66 537.62 L494.19 537.17 L494.72 536.72 L495.25 536.26 L495.78 535.81 L496.31 535.36 L496.84 534.91 L497.37 534.47 L497.91 534.02 L498.44 533.57 L498.97 533.13 L499.51 532.68 L500.05 532.24 L500.58 531.8 L501.12 531.35 L501.66 530.91 L502.19 530.47 L502.73 530.03 L503.27 529.59 L503.81 529.15 L504.35 528.71 L504.88 528.27 L505.42 527.83 L505.96 527.39 L506.5 526.95 L507.04 526.51 L507.58 526.07 L508.12 525.63 L508.66 525.19 L509.2 524.75 L509.73 524.31 L510.27 523.87 L510.81 523.43 L511.35 522.98 L511.89 522.54 L512.43 522.1 L512.97 521.66 L513.51 521.22 L514.05 520.78 L514.58 520.34 L515.12 519.9 L515.66 519.46 L516.2 519.02 L516.74 518.58 L517.28 518.14 L517.82 517.7 L518.35 517.26 L518.89 516.81 L519.43 516.37 L519.97 515.93 L520.51 515.49 L521.05 515.05 L521.59 514.61 L522.12 514.16 L522.66 513.72 L523.2 513.28 L523.74 512.84 L524.28 512.4 L524.81 511.95 L525.35 511.51 L525.89 511.07 L526.43 510.63 L526.96 510.18 L527.5 509.74 L528.04 509.3 L528.58 508.85 L529.11 508.41 L529.65 507.97 L530.19 507.52 L530.72 507.08 L531.26 506.64 L531.8 506.19 L532.33 505.75 L532.87 505.3 L533.41 504.86 L533.94 504.41 L534.48 503.97 L535.01 503.52 L535.55 503.08 L536.08 502.63 L536.62 502.19 L537.16 501.74 L537.69 501.3 L538.23 500.85 L538.76 500.4 L539.29 499.96 L539.83 499.51 L540.36 499.06 L540.9 498.62 L541.43 498.17 L541.97 497.72 L542.5 497.28 L543.03 496.83 L543.57 496.38 L544.1 495.93 L544.63 495.48 L545.16 495.03 L545.7 494.58 L546.23 494.14 L546.76 493.69 L547.29 493.24 L547.82 492.79 L548.36 492.34 L548.89 491.89 L549.42 491.43 L549.95 490.98 L550.48 490.53 L551.01 490.08 L551.54 489.63 L552.07 489.18 L552.6 488.73 L553.13 488.27 L553.66 487.82 L554.19 487.37 L554.72 486.91 L555.24 486.46 L555.77 486.01 L556.3 485.55 L556.83 485.1 L557.36 484.64 L557.88 484.19 L558.41 483.73 L558.94 483.28 L559.46 482.82 L559.99 482.37 L560.52 481.91 L561.04 481.45 L561.57 481 L562.09 480.54 L562.62 480.08 L563.14 479.62 L563.66 479.16 L564.19 478.7 L564.71 478.25 L565.23 477.79 L565.76 477.33 L566.28 476.87 L566.8 476.41 L567.32 475.95 L567.85 475.48 L568.37 475.02 L568.89 474.56 L569.41 474.1 L569.93 473.64 L570.45 473.17 L570.97 472.71 L571.49 472.25 L572.01 471.78 L572.53 471.32 L573.04 470.85 L573.56 470.39 L574.08 469.92 L574.6 469.46 L575.11 468.99 L575.63 468.52 L576.15 468.06 L576.66 467.59 L577.18 467.12 L577.69 466.65 L578.21 466.19 L578.72 465.72 L579.24 465.25 L579.75 464.78 L580.26 464.31 L580.78 463.84 L581.29 463.36 L581.8 462.89 L582.31 462.42 L582.82 461.95 L583.33 461.48 L583.84 461 L584.35 460.53 L584.86 460.05 L585.37 459.58 L585.88 459.1 L586.39 458.63 L586.9 458.15 L587.41 457.68 L587.91 457.2 L588.42 456.72 L588.93 456.24 L589.43 455.77 L589.94 455.29 L590.44 454.81 L590.95 454.33 L591.45 453.85 L591.95 453.37 L592.46 452.89 L592.96 452.4 L593.46 451.92 L593.96 451.44 L594.46 450.96 L594.96 450.47 L595.46 449.99 L595.96 449.5 L596.46 449.02 L596.96 448.53 L597.46 448.05 L597.96 447.56 L598.45 447.07 L598.95 446.58 L599.45 446.1 L599.94 445.61 L600.44 445.12 L600.93 444.63 L601.43 444.14 L601.92 443.65 L602.41 443.16 L602.91 442.66 L603.4 442.17 L603.89 441.68 L604.38 441.18 L604.87 440.69 L605.36 440.19 L605.85 439.7 L606.34 439.2 L606.83 438.71 L607.31 438.21 L607.8 437.71 L608.29 437.21 L608.77 436.71 L609.26 436.21 L609.74 435.71 L610.23 435.21 L610.71 434.71 L611.19 434.21 L611.67 433.71 L612.16 433.2 L612.64 432.7 L613.12 432.2 L613.6 431.69 L614.07 431.19 L614.55 430.68 L615.03 430.17 L615.51 429.66 L615.98 429.16 L616.46 428.65 L616.93 428.14 L617.4 427.63 L617.88 427.12 L618.35 426.61 L618.82 426.09 L619.29 425.58 L619.76 425.07 L620.23 424.55 L620.7 424.04 L621.17 423.52 L621.63 423.01 L622.1 422.49 L622.57 421.97 L623.03 421.45 L623.49 420.93 L623.96 420.42 L624.42 419.89 L624.88 419.37 L625.34 418.85 L625.8 418.33 L626.26 417.81 L626.72 417.28 L627.18 416.76 L627.63 416.23 L628.09 415.71 L628.54 415.18 L629 414.65 L629.45 414.12 L629.9 413.59 L630.35 413.06 L630.8 412.53 L631.25 412 L631.7 411.47 L632.15 410.94 L632.59 410.4 L633.04 409.87 L633.48 409.33 L633.93 408.8 L634.37 408.26 L634.81 407.72 L635.25 407.19 L635.69 406.65 L636.13 406.11 L636.57 405.57 L637.01 405.03 L637.44 404.48 L637.88 403.94 L638.31 403.4 L638.74 402.85 L639.18 402.31 L639.61 401.76 L640.04 401.21 L640.47 400.67 L640.89 400.12 L641.32 399.57 L641.75 399.02 L642.17 398.47 L642.59 397.91 L643.02 397.36 L643.44 396.81 L643.86 396.25 L644.28 395.7 L644.7 395.14 L645.11 394.58 L645.53 394.02 L645.94 393.47 L646.36 392.91 L646.77 392.35 L647.18 391.78 L647.59 391.22 L648 390.66 L648.41 390.09 L648.82 389.53 L649.22 388.96 L649.63 388.4 L650.03 387.83 L650.43 387.26 L650.83 386.69 L651.23 386.12 L651.63 385.55 L652.03 384.98 L652.43 384.4 L652.82 383.83 L653.21 383.25 L653.61 382.68 L654 382.1 L654.39 381.52 L654.77 380.94 L655.16 380.36 L655.54 379.78 L655.93 379.2 L656.31 378.61 L656.69 378.03 L657.06 377.44 L657.43 376.85 L657.8 376.26 L658.17 375.67 L658.54 375.07 L658.9 374.48 L659.26 373.88 L659.62 373.28 L659.97 372.68 L660.32 372.08 L660.67 371.47 L661.01 370.87 L661.35 370.26 L661.69 369.65 L662.02 369.03 L662.35 368.42 L662.67 367.8 L662.99 367.18 L663.31 366.56 L663.62 365.93 L663.92 365.3 L664.23 364.67 L664.52 364.04 L664.82 363.4 L665.11 362.77 L665.39 362.13 L665.66 361.48 L665.92 360.83 L666.16 360.18 L666.37 359.52 L666.56 358.86 L666.71 358.18 L666.82 357.51 L666.89 356.82 L666.91 356.12 L666.88 355.42 L666.8 354.72 L666.66 354.03 L666.45 353.35 L666.19 352.68 L665.86 352.04 L665.46 351.43 L665.01 350.86 L664.5 350.34 L663.95 349.9 L663.36 349.53 L662.73 349.26 L662.08 349.07 L661.4 348.95 L660.71 348.88 L660.01 348.86 L659.3 348.87 L658.6 348.9 L657.89 348.95 L657.19 349.01 L656.5 349.09 L655.8 349.18 L655.11 349.28 L654.42 349.4 L653.74 349.53 L653.05 349.67 L652.37 349.83 L651.7 349.99 L651.03 350.17 L650.36 350.36 L649.69 350.56 L649.03 350.77 L648.37 350.99 L647.71 351.23 L647.05 351.47 L646.4 351.72 L645.76 351.98 L645.11 352.25 L644.47 352.52 L643.83 352.81 L643.2 353.1 L642.57 353.4 L641.94 353.7 L641.31 354.01 L640.69 354.33 L640.07 354.65 L639.46 354.98 L638.85 355.32 L638.24 355.66 L637.63 356 L637.03 356.35 L636.43 356.71 L635.83 357.07 L635.23 357.43 L634.64 357.8 L634.05 358.17 L633.46 358.54 L632.87 358.92 L632.29 359.3 L631.71 359.68 L631.13 360.06 L630.55 360.45 L629.97 360.84 L629.39 361.24 L628.82 361.63 L628.25 362.03 L627.67 362.42 L627.1 362.82 L626.53 363.22 L625.96 363.62 L625.39 364.03 L624.83 364.43 L624.26 364.84 L623.7 365.24 L623.13 365.65 L622.57 366.06 L622.01 366.47 L621.45 366.89 L620.89 367.3 L620.33 367.71 L619.77 368.13 L619.21 368.55 L618.66 368.97 L618.1 369.39 L617.55 369.81 L617 370.23 L616.45 370.65 L615.89 371.08 L615.34 371.5 L614.79 371.93 L614.25 372.36 L613.7 372.79 L613.15 373.22 L612.61 373.65 L612.06 374.08 L611.52 374.51 L610.97 374.95 L610.43 375.38 L609.89 375.82 L609.35 376.26 L608.81 376.7 L608.27 377.14 L607.73 377.58 L607.19 378.02 L606.66 378.46 L606.12 378.9 L605.59 379.35 L605.05 379.79 L604.52 380.24 L603.98 380.69 L603.45 381.13 L602.92 381.58 L602.39 382.03 L601.86 382.48 L601.33 382.93 L600.8 383.38 L600.27 383.84 L599.74 384.29 L599.21 384.74 L598.69 385.2 L598.16 385.65 L597.63 386.11 L597.11 386.56 L596.58 387.02 L596.06 387.48 L595.53 387.94 L595.01 388.4 L594.49 388.86 L593.97 389.32 L593.44 389.78 L592.92 390.24 L592.4 390.7 L591.88 391.17 L591.36 391.63 L590.84 392.09 L590.32 392.56 L589.8 393.02 L589.29 393.49 L588.77 393.95 L588.25 394.42 L587.73 394.89 L587.22 395.35 L586.7 395.82 L586.18 396.29 L585.67 396.76 L585.15 397.23 L584.64 397.7 L584.12 398.16 L583.61 398.63 L583.09 399.1 L582.58 399.57 L582.07 400.05 L581.55 400.52 L581.04 400.99 L580.52 401.46 L580.01 401.93 L579.5 402.4 L578.99 402.87 L578.47 403.35 L577.96 403.82 L577.45 404.29 L576.94 404.76 L576.43 405.24 L575.91 405.71 L575.4 406.18 L574.89 406.66 L574.38 407.13 L573.87 407.6 L573.36 408.08 L572.85 408.55 L572.33 409.02 L571.82 409.5 L571.31 409.97 L570.8 410.44 L570.29 410.92 L569.78 411.39 L569.27 411.87 L568.76 412.34 L568.25 412.81 L567.74 413.29 L567.23 413.76 L566.72 414.24 L566.21 414.71 L565.7 415.19 L565.19 415.66 L564.68 416.14 L564.17 416.61 L563.67 417.09 L563.16 417.57 L562.65 418.04 L562.15 418.52 L561.64 419 L561.13 419.48 L560.63 419.96 L560.12 420.44 L559.62 420.92 L559.12 421.4 L558.61 421.88 L558.11 422.36 L557.61 422.84 L557.11 423.32 L556.61 423.81 L556.11 424.29 L555.61 424.77 L555.11 425.26 L554.61 425.75 L554.11 426.23 L553.62 426.72 L553.12 427.21 L552.63 427.7 L552.13 428.19 L551.64 428.68 L551.15 429.17 L550.66 429.66 L550.16 430.15 L549.68 430.65 L549.19 431.14 L548.7 431.64 L548.21 432.13 L547.73 432.63 L547.24 433.13 L546.76 433.63 L546.28 434.13 L545.79 434.63 L545.31 435.13 L544.84 435.64 L544.36 436.14 L543.88 436.65 L543.4 437.16 L542.93 437.67 L542.46 438.18 L541.99 438.69 L541.51 439.2 L541.05 439.71 L540.58 440.23 L540.11 440.74 L539.64 441.26 L539.18 441.78 L538.72 442.3 L538.26 442.82 L537.8 443.34 L537.34 443.87 L536.88 444.39 L536.42 444.92 L535.97 445.44 L535.51 445.97 L535.06 446.5 L534.61 447.03 L534.16 447.56 L533.71 448.09 L533.26 448.63 L532.81 449.16 L532.36 449.69 L531.91 450.23 L531.47 450.76 L531.02 451.3 L530.58 451.84 L530.13 452.37 L529.69 452.91 L529.25 453.45 L528.8 453.99 L528.36 454.53 L527.92 455.07 L527.48 455.61 L527.04 456.15 L526.6 456.69 L526.16 457.23 L525.72 457.77 L525.28 458.31 L524.84 458.85 L524.4 459.39 L523.96 459.93 L523.52 460.47 L523.08 461.01 L522.64 461.56 L522.2 462.1 L521.76 462.64 L521.32 463.18 L520.88 463.72 L520.44 464.26 L520 464.8 L519.56 465.34 L519.12 465.88 L518.68 466.42 L518.25 466.96 L517.81 467.5 L517.37 468.04 L516.93 468.58 L516.49 469.12 L516.05 469.66 L515.61 470.21 L515.18 470.75 L514.74 471.29 L514.3 471.83 L513.86 472.37 L513.42 472.91 L512.99 473.45 L512.55 473.99 L512.11 474.53 L511.67 475.08 L511.24 475.62 L510.8 476.16 L510.36 476.7 L509.93 477.24 L509.49 477.78 L509.05 478.33 L508.62 478.87 L508.18 479.41 L507.75 479.95 L507.31 480.49 L506.88 481.04 L506.44 481.58 L506.01 482.12 L505.57 482.67 L505.14 483.21 L504.7 483.75 L504.27 484.3 L503.83 484.84 L503.4 485.38 L502.97 485.93 L502.53 486.47 L502.1 487.02 L501.67 487.56 L501.24 488.11 L500.8 488.65 L500.37 489.2 L499.94 489.74 L499.51 490.29 L499.08 490.83 L498.65 491.38 L498.22 491.93 L497.79 492.47 L497.36 493.02 L496.93 493.57 L496.5 494.12 L496.07 494.66 L495.64 495.21 L495.21 495.76 L494.78 496.31 L494.35 496.86 L493.93 497.41 L493.5 497.96 L493.07 498.51 L492.65 499.06 L492.22 499.61 L491.79 500.16 L491.37 500.71 L490.94 501.26 L490.52 501.81 L490.09 502.36 L489.67 502.92 L489.24 503.47 L488.82 504.02 L488.4 504.57 L487.97 505.13 L487.55 505.68 L487.13 506.23 L486.7 506.79 L486.28 507.34 L485.86 507.9 L485.44 508.45 L485.02 509.01 L484.6 509.56 L484.18 510.12 L483.76 510.67 L483.34 511.23 L482.92 511.78 L482.5 512.34 L482.08 512.9 L481.66 513.45 L481.24 514.01 L480.83 514.57 L480.41 515.13 L479.99 515.69 L479.58 516.24 L479.16 516.8 L478.74 517.36 L478.33 517.92 L477.91 518.48 L477.5 519.04 L477.08 519.6 L476.67 520.16 L476.26 520.72 L475.84 521.28 L475.43 521.84 L475.02 522.4 L474.61 522.96 L474.19 523.52 L473.78 524.09 L473.37 524.65 L472.96 525.21 L472.55 525.77 L472.14 526.33 L471.73 526.9 L471.32 527.46 L470.91 528.02 L470.5 528.59 L470.1 529.15 L469.69 529.71 L469.28 530.28 L468.87 530.84 L468.47 531.41 L468.06 531.97 L467.65 532.54 L467.25 533.1 L466.84 533.67 L466.44 534.24 L466.03 534.8 L465.63 535.37 L465.23 535.93 L464.82 536.5 L464.42 537.07 L464.02 537.64 L463.62 538.2 L463.21 538.77 L462.81 539.34 L462.41 539.91 L462.01 540.48 L461.61 541.04 L461.21 541.61 L460.81 542.18 L460.42 542.75 L460.02 543.32 L459.62 543.9 L459.23 544.47 L458.83 545.04 L458.44 545.61 L458.04 546.18 L457.65 546.76 L457.26 547.33 L456.87 547.91 L456.48 548.48 L456.09 549.06 L455.7 549.64 L455.31 550.22 L454.93 550.8 L454.54 551.38 L454.16 551.96 L453.78 552.54 L453.39 553.12 L453.01 553.71 L452.63 554.29 L452.26 554.88 L451.88 555.46 L451.5 556.05 L451.13 556.64 L450.76 557.23 L450.39 557.82 L450.02 558.42 L449.65 559.01 L449.28 559.6 L448.92 560.2 L448.56 560.8 L448.19 561.4 L447.83 562 L447.47 562.6 L447.12 563.2 L446.76 563.81 L446.41 564.42 L446.06 565.02 L445.72 565.64 L445.46 566.27 L445.33 566.93 L445.41 567.64 L445.72 568.22 L446.23 568.32 L446.87 567.97 L447.55 567.42 L448.19 566.86 L448.78 566.34 L449.32 565.86 L449.83 565.4 L450.32 564.96 L450.78 564.52 L451.24 564.09 L451.7 563.66 L452.16 563.21 L452.63 562.75 L453.11 562.28 L453.6 561.8 L454.09 561.32 L454.59 560.83 L455.1 560.33 L455.61 559.84 L456.12 559.34 L456.64 558.85 L457.16 558.36 L457.68 557.88 L458.21 557.4 L458.74 556.93 L459.26 556.46 L459.79 556 L460.32 555.53 L460.85 555.07 L461.38 554.61 L461.9 554.16 L462.43 553.7 L462.95 553.24 L463.48 552.78 L464 552.32 L464.51 551.85 L465.03 551.39 L465.54 550.92 L466.05 550.45 L466.56 549.97 L467.07 549.5 L467.58 549.02 L468.08 548.54 L468.58 548.07 L469.08 547.58 L469.58 547.1 L470.08 546.62 L470.58 546.13 L471.07 545.65 L471.57 545.16 L472.06 544.67 L472.55 544.18 L473.04 543.69 L473.54 543.2 L474.03 542.71 L474.52 542.22 L475.01 541.73 L475.49 541.23 L475.98 540.74 L476.47 540.25 L476.96 539.75 L477.45 539.26 L477.94 538.77 L478.43 538.27 L478.91 537.78 L479.4 537.29 L479.89 536.79 L480.38 536.3 L480.87 535.81 L481.36 535.32 L481.86 534.82 L482.35 534.33 L482.84 533.84 L483.34 533.36 L483.83 532.87 L484.33 532.38 L484.83 531.9 L485.33 531.41 L485.83 530.93 L486.33 530.45 L486.83 529.96 L487.34 529.48 L487.84 529 L488.35 528.52 L488.86 528.05 L489.36 527.57 L489.87 527.09 L490.38 526.62 L490.89 526.14 L491.4 525.67 L491.91 525.19 L492.43 524.72 L492.94 524.24 L493.45 523.77 L493.97 523.3 L494.48 522.83 L494.99 522.36 L495.51 521.88 L496.02 521.41 L496.54 520.94 L497.06 520.47 L497.57 520 L498.09 519.53 L498.6 519.06 L499.12 518.59 L499.63 518.12 L500.15 517.65 L500.66 517.18 L501.18 516.71 L501.69 516.23 L502.21 515.76 L502.72 515.29 L503.24 514.82 L503.75 514.35 L504.26 513.87 L504.77 513.4 L505.29 512.93 L505.8 512.45 L506.31 511.98 L506.82 511.5 L507.33 511.03 L507.84 510.55 L508.34 510.07 L508.85 509.6 L509.35 509.12 L509.86 508.64 L510.36 508.16 L510.86 507.67 L511.37 507.19 L511.87 506.71 L512.36 506.22 L512.86 505.74 L513.36 505.25 L513.85 504.76 L514.35 504.27 L514.84 503.78 L515.33 503.29 L515.82 502.8 L516.3 502.3 L516.79 501.81 L517.27 501.31 L517.76 500.81 L518.24 500.31 L518.72 499.81 L519.19 499.31 L519.67 498.8 L520.14 498.29 L520.61 497.79 L521.08 497.28 L521.54 496.76 L522.01 496.25 L522.47 495.73 L522.93 495.22 L523.39 494.7 L523.84 494.18 L524.3 493.65 L524.75 493.13 L525.19 492.6 L525.64 492.07 L526.08 491.54 L526.52 491 L526.96 490.47 L527.39 489.93 L527.83 489.38 L528.25 488.84 L528.68 488.29 L529.1 487.75 L529.52 487.19 L529.94 486.64 L530.36 486.08 L530.77 485.53 L531.17 484.96 L531.58 484.4 L531.98 483.83 L532.37 483.25 L532.75 482.66 L533.13 482.07 L533.5 481.47 L533.86 480.86 L534.21 480.23 L534.55 479.59 L534.88 478.94 L535.19 478.27 L535.49 477.58 L535.77 476.88 L536.04 476.16 L536.25 475.45 L536.36 474.8 L536.28 474.28 L535.98 473.92 L535.52 473.7 L534.92 473.6 L534.23 473.62 L533.49 473.73 L532.74 473.91 L532.01 474.15 L531.34 474.44 L530.7 474.77 L530.09 475.13 L529.51 475.52 L528.94 475.92 L528.38 476.34 L527.83 476.76 L527.27 477.17 L526.72 477.6 L526.17 478.02 L525.62 478.45 L525.07 478.87 L524.53 479.3 L523.98 479.74 L523.44 480.17 L522.9 480.61 L522.36 481.04 L521.82 481.49 L521.29 481.93 L520.75 482.37 L520.22 482.82 L519.69 483.27 L519.16 483.72 L518.64 484.18 L518.11 484.64 L517.59 485.09 L517.07 485.56 L516.56 486.02 L516.04 486.49 L515.53 486.96 L515.02 487.43 L514.51 487.9 L514 488.38 L513.5 488.86 L512.99 489.34 L512.49 489.82 L512 490.31 L511.5 490.8 L511.01 491.29 L510.52 491.78 L510.03 492.28 L509.55 492.78 L509.07 493.28 L508.59 493.78 L508.11 494.29 L507.63 494.8 L507.16 495.31 L506.69 495.82 L506.22 496.34 L505.75 496.85 L505.29 497.37 L504.82 497.89 L504.36 498.42 L503.9 498.94 L503.44 499.47 L502.99 499.99 L502.53 500.52 L502.08 501.05 L501.63 501.58 L501.18 502.12 L500.73 502.65 L500.28 503.19 L499.83 503.72 L499.39 504.26 L498.95 504.8 L498.5 505.34 L498.06 505.88 L497.62 506.42 L497.18 506.96 L496.75 507.5 L496.31 508.05 L495.87 508.59 L495.44 509.14 L495 509.68 L494.57 510.22 L494.13 510.77 L493.7 511.31 L493.27 511.86 L492.84 512.41 L492.41 512.95 L491.97 513.5 L491.54 514.04 L491.11 514.59 L490.68 515.13 L490.25 515.67 L489.82 516.22 L489.39 516.76 L488.96 517.3 L488.53 517.85 L488.1 518.39 L487.67 518.93 L487.24 519.47 L486.81 520.01 L486.38 520.55 L485.95 521.08 L485.52 521.62 L485.08 522.16 L484.65 522.69 L484.21 523.23 L483.78 523.76 L483.34 524.3 L482.9 524.83 L482.46 525.37 L482.02 525.9 L481.58 526.43 L481.13 526.96 L480.68 527.5 L480.23 528.03 L479.78 528.56 L479.33 529.09 L478.87 529.62 L478.41 530.15 L477.95 530.68 L477.49 531.22 L477.02 531.75 L476.55 532.28 L476.08 532.81 L475.6 533.34 L475.12 533.87 L474.64 534.4 L474.15 534.93 L473.66 535.47 L473.17 536 L472.67 536.53 L472.17 537.06 L471.67 537.6 L471.21 538.13 L470.85 538.67 L470.64 539.21 L470.64 539.76 L470.86 540.29 L471.25 540.67 L471.75 540.8 L472.32 540.68 L472.95 540.37 L473.61 539.92 L474.28 539.37 L474.94 538.78 L475.57 538.18 L476.16 537.63 L476.71 537.1 L477.23 536.6 L477.73 536.12 L478.21 535.66 L478.69 535.21 L479.16 534.76 L479.63 534.32 L480.11 533.87 L480.61 533.42 L481.1 532.97 L481.61 532.52 L482.12 532.06 L482.63 531.61 L483.15 531.14 L483.67 530.68 L484.19 530.21 L484.72 529.74 L485.24 529.26 L485.77 528.79 L486.29 528.31 L486.81 527.82 L487.33 527.33 L487.84 526.84 L488.35 526.34 L488.85 525.84 L489.34 525.34 L489.83 524.83 L490.31 524.32 L490.78 523.81 L491.24 523.29 L491.69 522.76 L492.14 522.24 L492.58 521.71 L493.01 521.18 L493.45 520.64 L493.88 520.11 L494.31 519.57 L494.73 519.04 L495.16 518.5 L495.59 517.96 L496.03 517.42 L496.46 516.89 L496.91 516.35 L497.36 515.82 L497.81 515.29 L498.28 514.76 L498.75 514.23 L499.23 513.71 L499.73 513.19 L500.23 512.67 L500.72 512.15 L501.22 511.63 L501.7 511.1 L502.17 510.56 L502.61 510.02 L503.03 509.47 L503.41 508.9 L503.75 508.32 L504.05 507.72 L504.29 507.1 L504.48 506.46 L504.61 505.8 L504.67 505.12 L504.59 504.54 L504.26 504.25 L503.67 504.3 L502.92 504.62 L502.1 505.08 L501.32 505.6 L500.65 506.11 L500.07 506.6 L499.56 507.08 L499.11 507.54 L498.69 508.01 L498.29 508.47 L497.88 508.94 L497.45 509.42 L497.01 509.91 L496.55 510.41 L496.07 510.91 L495.59 511.42 L495.1 511.94 L494.6 512.46 L494.09 512.98 L493.58 513.51 L493.07 514.04 L492.56 514.58 L492.05 515.11 L491.55 515.63 L491.06 516.16 L490.58 516.67 L490.11 517.18 L489.65 517.67 L489.21 518.14 L488.79 518.6 L488.39 519.05 L488 519.48 L487.61 519.91 L487.22 520.36 L486.8 520.84 L486.35 521.36 L485.86 521.93 L485.31 522.56 L484.7 523.27 L484.02 524.06 L483.34 524.88 L482.74 525.64 L482.31 526.27 L482.14 526.68 L482.32 526.79 L482.87 526.57 L483.52 526.21 L484.11 525.83 L484.66 525.43 L485.22 525.01 L485.76 524.59 L486.31 524.16 L486.85 523.72 L487.38 523.27 L487.91 522.82 L488.44 522.37 L488.97 521.91 L489.49 521.45 L490.01 520.99 L490.53 520.52 L491.05 520.05 L491.56 519.58 L492.07 519.1 L492.57 518.62 L493.07 518.14 L493.57 517.65 L494.07 517.16 L494.56 516.67 L495.04 516.17 L495.52 515.67 L496 515.17 L496.48 514.66 L496.95 514.15 L497.41 513.64 L497.87 513.11 L498.31 512.56 L498.75 512 L499.11 511.41 L498.94 511.01 L498.26 511.36 L497.68 511.74 L497.14 512.15 L496.6 512.57 L496.06 513.01 L495.52 513.47 L494.99 513.92 L494.46 514.38 L493.94 514.85 L493.43 515.32 L492.92 515.79 L492.42 516.27 L491.92 516.76 L491.43 517.25 L490.95 517.75 L490.47 518.25 L489.99 518.76 L489.53 519.28 L489.07 519.82 L488.66 520.39 L488.75 520.76 L489.4 520.38 L489.96 519.97 L490.48 519.54 L491.01 519.09 L491.54 518.63 L492.06 518.15 L492.57 517.67 L493.07 517.19 L493.55 516.7 L494.01 516.21 L494.5 515.69 L494.99 515.1 L494.93 514.78 L494.34 515.16 L493.79 515.63 L493.26 516.08 L492.76 516.53 L492.26 517.02 L491.76 517.53 L491.3 518.04 L491.18 518.45 L491.79 518.01 L492.29 517.57 L492.78 517.1 L493.32 516.56 L493.45 516.22 L492.9 516.64 L492.36 517.15 L492.07 517.57 L492.62 517.12 L492.88 516.76 L492.37 517.26" fill="none" stroke="url(#g4)" stroke-width="1.6" stroke-linecap="round" stroke-linejoin="round"/>
<path d="M253.8 710.5 V951.7 H495" fill="none" stroke="#585858" stroke-width="1"/>
<path d="M253.8 710.5 H495 V951.7" fill="none" stroke="#7a7a7a" stroke-width="1"/>
<path d="M253.8 947.6h2.4M253.8 941.53h1.4M253.8 935.47h1.4M253.8 929.4h1.4M253.8 923.34h1.4M253.8 917.27h2.4M253.8 911.2h1.4M253.8 905.14h1.4M253.8 899.07h1.4M253.8 893.01h1.4M253.8 886.94h2.4M253.8 880.87h1.4M253.8 874.81h1.4M253.8 868.74h1.4M253.8 862.68h1.4M253.8 856.61h2.4M253.8 850.54h1.4M253.8 844.48h1.4M253.8 838.41h1.4M253.8 832.35h1.4M253.8 826.28h2.4M253.8 820.21h1.4M253.8 814.15h1.4M253.8 808.08h1.4M253.8 802.02h1.4M253.8 795.95h2.4M253.8 789.88h1.4M253.8 783.82h1.4M253.8 777.75h1.4M253.8 771.69h1.4M253.8 765.62h2.4M253.8 759.55h1.4M253.8 753.49h1.4M253.8 747.42h1.4M253.8 741.36h1.4M253.8 735.29h2.4M253.8 729.22h1.4M253.8 723.16h1.4M253.8 717.09h1.4" stroke="#585858" stroke-width="0.8" fill="none"/>
<path d="M258.7 951.7v-2.4M273.16 951.7v-1.4M287.62 951.7v-1.4M302.09 951.7v-1.4M316.55 951.7v-2.4M331.01 951.7v-1.4M345.48 951.7v-1.4M359.94 951.7v-1.4M374.4 951.7v-2.4M388.86 951.7v-1.4M403.33 951.7v-1.4M417.79 951.7v-1.4M432.25 951.7v-2.4M446.71 951.7v-1.4M461.18 951.7v-1.4M475.64 951.7v-1.4M490.1 951.7v-2.4" stroke="#585858" stroke-width="0.8" fill="none"/>
<text x="252" y="950.5" text-anchor="end" class="t" font-size="7.3">0</text>
<text x="222.2" y="920.17" class="t" font-size="7.3" textLength="29.8" lengthAdjust="spacing">5.×10<tspan dy="-3.36" font-size="6.57">−7</tspan></text>
<text x="222.2" y="889.84" class="t" font-size="7.3" textLength="29.8" lengthAdjust="spacing">1.×10<tspan dy="-3.36" font-size="6.57">−6</tspan></text>
<text x="218.4" y="859.51" class="t" font-size="7.3" textLength="33.6" lengthAdjust="spacing">1.5×10<tspan dy="-3.36" font-size="6.57">−6</tspan></text>
<text x="222.2" y="829.18" class="t" font-size="7.3" textLength="29.8" lengthAdjust="spacing">2.×10<tspan dy="-3.36" font-size="6.57">−6</tspan></text>
<text x="218.4" y="798.85" class="t" font-size="7.3" textLength="33.6" lengthAdjust="spacing">2.5×10<tspan dy="-3.36" font-size="6.57">−6</tspan></text>
<text x="222.2" y="768.52" class="t" font-size="7.3" textLength="29.8" lengthAdjust="spacing">3.×10<tspan dy="-3.36" font-size="6.57">−6</tspan></text>
<text x="218.4" y="738.19" class="t" font-size="7.3" textLength="33.6" lengthAdjust="spacing">3.5×10<tspan dy="-3.36" font-size="6.57">−6</tspan></text>
<text x="258.7" y="961.5" text-anchor="middle" class="t" font-size="7.3">0</text>
<text x="316.55" y="961.5" text-anchor="middle" class="t" font-size="7.3">0.00002</text>
<text x="374.4" y="961.5" text-anchor="middle" class="t" font-size="7.3">0.00004</text>
<text x="432.25" y="961.5" text-anchor="middle" class="t" font-size="7.3">0.00006</text>
<text x="490.1" y="961.5" text-anchor="middle" class="t" font-size="7.3">0.00008</text>
<text x="235.4" y="982.6" class="b" font-size="12.8" textLength="208" lengthAdjust="spacingAndGlyphs">Host humans quarantined in Thais</text>
<text transform="translate(199.6 970.5) rotate(-90)" class="b" font-size="13.4" textLength="274.5" lengthAdjust="spacingAndGlyphs">Host humans quarantined in Foreign (tourist)</text>
<text x="348.8" y="1011" text-anchor="middle" class="c">(k)</text>
<linearGradient id="g5" gradientUnits="userSpaceOnUse" x1="259.6" y1="0" x2="490" y2="0">
<stop offset="0" stop-color="#ff0000"/>
<stop offset="0.17" stop-color="#ffff00"/>
<stop offset="0.33" stop-color="#00ff00"/>
<stop offset="0.5" stop-color="#00ffff"/>
<stop offset="0.67" stop-color="#0000ff"/>
<stop offset="0.83" stop-color="#ff00ff"/>
<stop offset="1" stop-color="#ff0000"/>
</linearGradient>
<path d="M259.6 945.7 L260.1 945.29 L260.61 944.88 L261.11 944.47 L261.62 944.06 L262.12 943.65 L262.62 943.23 L263.13 942.82 L263.63 942.41 L264.13 942 L264.63 941.58 L265.13 941.17 L265.63 940.75 L266.13 940.34 L266.63 939.92 L267.13 939.51 L267.63 939.09 L268.13 938.68 L268.63 938.26 L269.13 937.84 L269.63 937.43 L270.13 937.01 L270.63 936.59 L271.12 936.17 L271.62 935.75 L272.12 935.33 L272.61 934.91 L273.11 934.49 L273.61 934.07 L274.1 933.65 L274.6 933.23 L275.09 932.81 L275.59 932.39 L276.08 931.97 L276.58 931.55 L277.07 931.12 L277.57 930.7 L278.06 930.28 L278.55 929.86 L279.05 929.43 L279.54 929.01 L280.03 928.58 L280.53 928.16 L281.02 927.73 L281.51 927.31 L282 926.88 L282.49 926.46 L282.99 926.03 L283.48 925.61 L283.97 925.18 L284.46 924.76 L284.95 924.33 L285.44 923.9 L285.93 923.48 L286.42 923.05 L286.91 922.62 L287.41 922.19 L287.9 921.77 L288.39 921.34 L288.88 920.91 L289.37 920.49 L289.86 920.06 L290.35 919.64 L290.84 919.21 L291.34 918.79 L291.83 918.36 L292.32 917.94 L292.82 917.52 L293.31 917.1 L293.81 916.67 L294.31 916.26 L294.8 915.84 L295.3 915.42 L295.8 915 L296.3 914.59 L296.8 914.17 L297.3 913.76 L297.81 913.35 L298.31 912.94 L298.82 912.53 L299.32 912.13 L299.83 911.72 L300.34 911.32 L300.85 910.92 L301.37 910.52 L301.88 910.12 L302.4 909.73 L302.91 909.33 L303.43 908.94 L303.95 908.55 L304.48 908.17 L305 907.78 L305.52 907.4 L306.05 907.01 L306.58 906.63 L307.1 906.25 L307.63 905.87 L308.16 905.49 L308.68 905.11 L309.21 904.73 L309.74 904.35 L310.27 903.97 L310.8 903.59 L311.32 903.21 L311.85 902.83 L312.38 902.44 L312.9 902.06 L313.43 901.68 L313.95 901.29 L314.47 900.9 L314.99 900.51 L315.51 900.12 L316.03 899.73 L316.54 899.34 L317.06 898.94 L317.57 898.54 L318.08 898.14 L318.59 897.74 L319.1 897.34 L319.61 896.93 L320.12 896.53 L320.62 896.12 L321.13 895.71 L321.63 895.3 L322.13 894.89 L322.64 894.47 L323.14 894.06 L323.63 893.64 L324.13 893.23 L324.63 892.81 L325.13 892.39 L325.62 891.97 L326.12 891.55 L326.61 891.13 L327.11 890.7 L327.6 890.28 L328.09 889.86 L328.58 889.43 L329.07 889 L329.56 888.58 L330.05 888.15 L330.54 887.72 L331.03 887.29 L331.52 886.87 L332.01 886.44 L332.5 886.01 L332.99 885.58 L333.48 885.15 L333.96 884.72 L334.45 884.29 L334.94 883.86 L335.43 883.43 L335.91 882.99 L336.4 882.56 L336.89 882.13 L337.38 881.7 L337.87 881.27 L338.35 880.84 L338.84 880.41 L339.33 879.98 L339.82 879.55 L340.31 879.13 L340.8 878.7 L341.29 878.27 L341.78 877.84 L342.27 877.42 L342.76 876.99 L343.25 876.56 L343.75 876.14 L344.24 875.72 L344.74 875.29 L345.23 874.87 L345.73 874.45 L346.22 874.03 L346.72 873.61 L347.22 873.19 L347.72 872.77 L348.22 872.36 L348.72 871.94 L349.22 871.53 L349.72 871.11 L350.22 870.7 L350.72 870.29 L351.23 869.87 L351.73 869.46 L352.23 869.05 L352.74 868.64 L353.24 868.23 L353.75 867.82 L354.25 867.41 L354.76 867 L355.26 866.59 L355.77 866.18 L356.27 865.77 L356.78 865.36 L357.28 864.95 L357.79 864.55 L358.3 864.14 L358.8 863.73 L359.31 863.32 L359.81 862.91 L360.32 862.5 L360.82 862.09 L361.33 861.68 L361.83 861.27 L362.33 860.86 L362.84 860.45 L363.34 860.04 L363.84 859.62 L364.34 859.21 L364.85 858.8 L365.35 858.38 L365.85 857.97 L366.35 857.55 L366.84 857.14 L367.34 856.72 L367.84 856.3 L368.34 855.88 L368.83 855.46 L369.33 855.04 L369.82 854.62 L370.31 854.2 L370.81 853.77 L371.3 853.35 L371.79 852.92 L372.27 852.49 L372.76 852.06 L373.25 851.63 L373.73 851.2 L374.22 850.76 L374.7 850.33 L375.18 849.89 L375.66 849.46 L376.14 849.02 L376.62 848.58 L377.1 848.14 L377.58 847.7 L378.05 847.26 L378.53 846.81 L379 846.37 L379.48 845.92 L379.95 845.48 L380.42 845.03 L380.9 844.59 L381.37 844.14 L381.84 843.69 L382.31 843.24 L382.78 842.8 L383.25 842.35 L383.72 841.9 L384.19 841.45 L384.66 841 L385.13 840.55 L385.6 840.1 L386.07 839.65 L386.54 839.2 L387.01 838.75 L387.48 838.3 L387.95 837.85 L388.42 837.4 L388.89 836.95 L389.36 836.5 L389.83 836.05 L390.3 835.6 L390.77 835.16 L391.25 834.71 L391.72 834.26 L392.19 833.82 L392.67 833.37 L393.14 832.93 L393.61 832.48 L394.09 832.04 L394.57 831.59 L395.04 831.15 L395.52 830.71 L396 830.27 L396.48 829.83 L396.96 829.4 L397.44 828.96 L397.92 828.52 L398.41 828.09 L398.89 827.66 L399.38 827.22 L399.86 826.79 L400.35 826.36 L400.84 825.94 L401.33 825.51 L401.82 825.09 L402.31 824.66 L402.81 824.24 L403.3 823.81 L403.79 823.39 L404.29 822.97 L404.78 822.55 L405.28 822.12 L405.77 821.7 L406.26 821.28 L406.76 820.86 L407.25 820.43 L407.74 820.01 L408.23 819.58 L408.72 819.15 L409.21 818.73 L409.7 818.3 L410.19 817.87 L410.68 817.44 L411.16 817.01 L411.65 816.57 L412.13 816.14 L412.61 815.71 L413.1 815.27 L413.58 814.83 L414.06 814.4 L414.54 813.96 L415.02 813.52 L415.49 813.08 L415.97 812.64 L416.45 812.2 L416.92 811.75 L417.4 811.31 L417.87 810.86 L418.35 810.42 L418.82 809.97 L419.29 809.53 L419.76 809.08 L420.23 808.63 L420.7 808.18 L421.17 807.73 L421.63 807.28 L422.1 806.82 L422.57 806.37 L423.03 805.92 L423.5 805.46 L423.96 805 L424.42 804.55 L424.88 804.09 L425.34 803.63 L425.8 803.17 L426.26 802.71 L426.72 802.25 L427.18 801.79 L427.64 801.33 L428.09 800.86 L428.55 800.4 L429 799.93 L429.46 799.47 L429.91 799 L430.36 798.54 L430.81 798.07 L431.26 797.6 L431.71 797.13 L432.16 796.66 L432.61 796.19 L433.06 795.72 L433.51 795.24 L433.95 794.77 L434.4 794.3 L434.84 793.82 L435.29 793.35 L435.73 792.87 L436.17 792.39 L436.61 791.92 L437.05 791.44 L437.49 790.96 L437.93 790.48 L438.37 790 L438.81 789.52 L439.25 789.04 L439.69 788.56 L440.12 788.07 L440.56 787.59 L440.99 787.1 L441.42 786.62 L441.86 786.13 L442.29 785.65 L442.72 785.16 L443.15 784.67 L443.58 784.19 L444.01 783.7 L444.44 783.21 L444.87 782.72 L445.3 782.23 L445.72 781.74 L446.15 781.25 L446.58 780.75 L447 780.26 L447.43 779.77 L447.85 779.27 L448.27 778.78 L448.69 778.28 L449.12 777.79 L449.54 777.29 L449.96 776.79 L450.38 776.3 L450.8 775.8 L451.21 775.3 L451.63 774.8 L452.05 774.3 L452.46 773.8 L452.88 773.3 L453.3 772.8 L453.71 772.3 L454.12 771.8 L454.54 771.3 L454.95 770.79 L455.36 770.29 L455.77 769.78 L456.18 769.28 L456.59 768.78 L457 768.27 L457.41 767.76 L457.82 767.26 L458.23 766.75 L458.63 766.24 L459.04 765.74 L459.45 765.23 L459.85 764.72 L460.26 764.21 L460.66 763.7 L461.06 763.19 L461.47 762.68 L461.87 762.17 L462.27 761.66 L462.67 761.15 L463.07 760.64 L463.47 760.13 L463.87 759.61 L464.27 759.1 L464.67 758.59 L465.07 758.07 L465.46 757.56 L465.86 757.04 L466.26 756.53 L466.65 756.01 L467.05 755.5 L467.44 754.98 L467.83 754.47 L468.23 753.95 L468.62 753.43 L469.01 752.92 L469.4 752.4 L469.79 751.88 L470.18 751.36 L470.57 750.84 L470.96 750.32 L471.34 749.8 L471.73 749.27 L472.11 748.75 L472.49 748.23 L472.88 747.7 L473.26 747.18 L473.64 746.65 L474.02 746.13 L474.4 745.6 L474.77 745.07 L475.15 744.54 L475.52 744.01 L475.9 743.48 L476.27 742.95 L476.64 742.42 L477.01 741.88 L477.38 741.35 L477.74 740.81 L478.11 740.27 L478.47 739.73 L478.83 739.2 L479.19 738.65 L479.55 738.11 L479.91 737.57 L480.27 737.03 L480.62 736.48 L480.97 735.93 L481.32 735.39 L481.67 734.84 L482.02 734.29 L482.37 733.74 L482.71 733.18 L483.06 732.63 L483.4 732.07 L483.73 731.51 L484.07 730.95 L484.41 730.39 L484.74 729.83 L485.07 729.27 L485.4 728.7 L485.73 728.14 L486.05 727.57 L486.38 727 L486.7 726.43 L487.01 725.85 L487.33 725.28 L487.65 724.7 L487.96 724.12 L488.27 723.54 L488.58 722.96 L488.88 722.38 L489.17 721.79 L489.44 721.2 L489.66 720.59 L489.83 719.98 L489.93 719.36 L489.95 718.71 L489.86 718.05 L489.68 717.4 L489.4 716.77 L489.03 716.21 L488.58 715.74 L488.05 715.4 L487.47 715.17 L486.84 715.03 L486.18 714.96 L485.51 714.94 L484.83 714.95 L484.16 714.98 L483.49 715.03 L482.83 715.09 L482.17 715.18 L481.53 715.27 L480.88 715.39 L480.24 715.52 L479.61 715.67 L478.98 715.83 L478.36 716.01 L477.74 716.19 L477.12 716.39 L476.51 716.61 L475.9 716.83 L475.3 717.07 L474.7 717.31 L474.1 717.57 L473.51 717.84 L472.92 718.11 L472.34 718.39 L471.76 718.68 L471.18 718.98 L470.6 719.28 L470.02 719.59 L469.45 719.9 L468.88 720.22 L468.31 720.55 L467.75 720.87 L467.18 721.2 L466.62 721.53 L466.06 721.87 L465.5 722.2 L464.95 722.54 L464.39 722.88 L463.84 723.23 L463.28 723.57 L462.73 723.92 L462.18 724.27 L461.64 724.63 L461.09 724.98 L460.54 725.34 L460 725.7 L459.46 726.06 L458.92 726.42 L458.38 726.79 L457.84 727.16 L457.3 727.52 L456.77 727.89 L456.23 728.27 L455.7 728.64 L455.17 729.01 L454.64 729.39 L454.11 729.77 L453.58 730.15 L453.05 730.53 L452.52 730.91 L452 731.29 L451.47 731.68 L450.95 732.06 L450.43 732.45 L449.91 732.84 L449.39 733.23 L448.87 733.62 L448.35 734.01 L447.84 734.4 L447.32 734.8 L446.8 735.19 L446.29 735.59 L445.78 735.99 L445.27 736.39 L444.76 736.79 L444.25 737.19 L443.74 737.59 L443.23 738 L442.72 738.4 L442.22 738.81 L441.71 739.22 L441.21 739.63 L440.7 740.04 L440.2 740.45 L439.7 740.86 L439.2 741.27 L438.7 741.69 L438.2 742.1 L437.7 742.52 L437.2 742.94 L436.71 743.35 L436.21 743.77 L435.72 744.19 L435.22 744.61 L434.73 745.04 L434.24 745.46 L433.74 745.88 L433.25 746.31 L432.76 746.73 L432.27 747.16 L431.78 747.59 L431.29 748.01 L430.81 748.44 L430.32 748.87 L429.83 749.3 L429.35 749.73 L428.86 750.17 L428.38 750.6 L427.89 751.03 L427.41 751.47 L426.93 751.9 L426.45 752.34 L425.96 752.77 L425.48 753.21 L425 753.65 L424.52 754.09 L424.04 754.53 L423.57 754.97 L423.09 755.41 L422.61 755.85 L422.13 756.29 L421.66 756.73 L421.18 757.18 L420.7 757.62 L420.23 758.06 L419.75 758.51 L419.28 758.95 L418.81 759.4 L418.33 759.84 L417.86 760.29 L417.39 760.74 L416.92 761.19 L416.44 761.63 L415.97 762.08 L415.5 762.53 L415.03 762.98 L414.56 763.43 L414.09 763.88 L413.62 764.33 L413.15 764.78 L412.68 765.23 L412.21 765.68 L411.75 766.14 L411.28 766.59 L410.81 767.04 L410.34 767.49 L409.87 767.95 L409.41 768.4 L408.94 768.85 L408.47 769.31 L408.01 769.76 L407.54 770.22 L407.07 770.67 L406.61 771.12 L406.14 771.58 L405.68 772.03 L405.21 772.49 L404.75 772.94 L404.28 773.4 L403.82 773.85 L403.35 774.31 L402.89 774.77 L402.42 775.22 L401.96 775.68 L401.49 776.13 L401.03 776.59 L400.56 777.04 L400.1 777.5 L399.63 777.96 L399.17 778.41 L398.7 778.87 L398.24 779.32 L397.78 779.78 L397.31 780.24 L396.85 780.69 L396.38 781.15 L395.92 781.6 L395.45 782.06 L394.99 782.51 L394.53 782.97 L394.06 783.43 L393.6 783.88 L393.14 784.34 L392.67 784.8 L392.21 785.25 L391.75 785.71 L391.28 786.17 L390.82 786.62 L390.36 787.08 L389.9 787.54 L389.43 788 L388.97 788.45 L388.51 788.91 L388.05 789.37 L387.59 789.83 L387.13 790.29 L386.67 790.74 L386.21 791.2 L385.75 791.66 L385.29 792.12 L384.83 792.58 L384.37 793.04 L383.91 793.5 L383.45 793.96 L382.99 794.42 L382.54 794.89 L382.08 795.35 L381.62 795.81 L381.17 796.27 L380.71 796.73 L380.25 797.2 L379.8 797.66 L379.34 798.13 L378.89 798.59 L378.44 799.05 L377.98 799.52 L377.53 799.99 L377.08 800.45 L376.62 800.92 L376.17 801.38 L375.72 801.85 L375.27 802.32 L374.82 802.79 L374.37 803.26 L373.92 803.73 L373.48 804.2 L373.03 804.67 L372.58 805.14 L372.14 805.61 L371.69 806.08 L371.24 806.55 L370.8 807.03 L370.36 807.5 L369.91 807.98 L369.47 808.45 L369.03 808.93 L368.59 809.4 L368.15 809.88 L367.71 810.36 L367.27 810.83 L366.83 811.31 L366.39 811.79 L365.95 812.27 L365.52 812.75 L365.08 813.24 L364.65 813.72 L364.21 814.2 L363.78 814.68 L363.35 815.17 L362.92 815.65 L362.49 816.14 L362.06 816.63 L361.63 817.12 L361.2 817.6 L360.77 818.09 L360.34 818.58 L359.92 819.07 L359.49 819.57 L359.07 820.06 L358.65 820.55 L358.23 821.05 L357.8 821.54 L357.38 822.04 L356.96 822.53 L356.55 823.03 L356.13 823.53 L355.71 824.03 L355.29 824.53 L354.88 825.03 L354.46 825.53 L354.05 826.03 L353.63 826.53 L353.22 827.03 L352.81 827.54 L352.4 828.04 L351.98 828.54 L351.57 829.05 L351.16 829.55 L350.75 830.05 L350.34 830.56 L349.93 831.06 L349.52 831.57 L349.11 832.08 L348.7 832.58 L348.29 833.09 L347.88 833.59 L347.47 834.1 L347.06 834.6 L346.65 835.11 L346.24 835.62 L345.83 836.12 L345.42 836.63 L345.01 837.13 L344.6 837.64 L344.19 838.14 L343.78 838.65 L343.37 839.15 L342.96 839.66 L342.55 840.16 L342.13 840.67 L341.72 841.17 L341.31 841.67 L340.9 842.17 L340.48 842.68 L340.07 843.18 L339.65 843.68 L339.24 844.18 L338.82 844.68 L338.4 845.18 L337.99 845.68 L337.57 846.17 L337.15 846.67 L336.73 847.17 L336.31 847.66 L335.89 848.16 L335.46 848.65 L335.04 849.14 L334.62 849.64 L334.19 850.13 L333.77 850.62 L333.34 851.11 L332.92 851.6 L332.49 852.09 L332.06 852.58 L331.64 853.07 L331.21 853.56 L330.79 854.05 L330.36 854.54 L329.94 855.04 L329.51 855.53 L329.09 856.02 L328.66 856.51 L328.24 857 L327.82 857.5 L327.4 857.99 L326.98 858.49 L326.56 858.98 L326.14 859.48 L325.72 859.98 L325.31 860.48 L324.89 860.98 L324.48 861.48 L324.07 861.98 L323.66 862.49 L323.25 862.99 L322.85 863.5 L322.44 864 L322.03 864.51 L321.63 865.02 L321.23 865.53 L320.83 866.04 L320.43 866.56 L320.03 867.07 L319.63 867.58 L319.23 868.1 L318.83 868.61 L318.44 869.13 L318.04 869.64 L317.65 870.16 L317.26 870.68 L316.86 871.2 L316.47 871.72 L316.08 872.24 L315.69 872.76 L315.3 873.28 L314.91 873.8 L314.52 874.32 L314.14 874.85 L313.75 875.37 L313.36 875.89 L312.98 876.42 L312.59 876.94 L312.21 877.47 L311.82 877.99 L311.44 878.52 L311.05 879.05 L310.67 879.57 L310.29 880.1 L309.9 880.62 L309.52 881.15 L309.14 881.68 L308.76 882.21 L308.38 882.73 L307.99 883.26 L307.61 883.79 L307.23 884.32 L306.85 884.84 L306.47 885.37 L306.09 885.9 L305.71 886.43 L305.33 886.95 L304.94 887.48 L304.56 888.01 L304.18 888.54 L303.8 889.06 L303.42 889.59 L303.03 890.12 L302.65 890.64 L302.27 891.17 L301.89 891.69 L301.5 892.22 L301.12 892.74 L300.74 893.27 L300.35 893.79 L299.97 894.32 L299.58 894.84 L299.2 895.36 L298.81 895.88 L298.42 896.41 L298.03 896.93 L297.65 897.45 L297.26 897.97 L296.87 898.49 L296.48 899.01 L296.09 899.52 L295.7 900.04 L295.3 900.56 L294.91 901.07 L294.52 901.59 L294.12 902.11 L293.73 902.62 L293.34 903.14 L292.94 903.65 L292.55 904.17 L292.16 904.68 L291.77 905.2 L291.38 905.72 L290.99 906.24 L290.6 906.76 L290.21 907.28 L289.83 907.81 L289.45 908.33 L289.07 908.86 L288.69 909.39 L288.32 909.93 L287.95 910.47 L287.58 911.01 L287.22 911.55 L286.86 912.1 L286.51 912.65 L286.15 913.2 L285.81 913.76 L285.46 914.33 L285.13 914.89 L284.81 915.47 L284.57 916.07 L284.47 916.72 L284.57 917.42 L284.86 918 L285.29 918.11 L285.79 917.79 L286.31 917.32 L286.82 916.86 L287.33 916.39 L287.82 915.93 L288.3 915.47 L288.78 915.02 L289.26 914.57 L289.73 914.12 L290.2 913.67 L290.66 913.23 L291.13 912.79 L291.59 912.35 L292.05 911.91 L292.52 911.47 L292.99 911.03 L293.46 910.6 L293.94 910.16 L294.41 909.73 L294.9 909.29 L295.38 908.86 L295.86 908.42 L296.35 907.99 L296.83 907.55 L297.32 907.12 L297.8 906.68 L298.29 906.24 L298.77 905.8 L299.25 905.37 L299.73 904.92 L300.21 904.48 L300.69 904.04 L301.17 903.6 L301.64 903.15 L302.12 902.71 L302.6 902.26 L303.07 901.82 L303.55 901.37 L304.02 900.93 L304.49 900.48 L304.97 900.03 L305.44 899.59 L305.91 899.14 L306.39 898.69 L306.86 898.24 L307.33 897.8 L307.8 897.35 L308.28 896.9 L308.75 896.45 L309.22 896 L309.69 895.56 L310.16 895.11 L310.64 894.66 L311.11 894.22 L311.58 893.77 L312.06 893.32 L312.53 892.88 L313 892.43 L313.48 891.99 L313.95 891.54 L314.43 891.1 L314.9 890.66 L315.38 890.21 L315.85 889.77 L316.33 889.33 L316.8 888.88 L317.28 888.44 L317.75 888 L318.23 887.56 L318.71 887.12 L319.18 886.68 L319.66 886.23 L320.14 885.79 L320.61 885.35 L321.09 884.91 L321.57 884.47 L322.04 884.03 L322.52 883.59 L323 883.15 L323.47 882.71 L323.95 882.27 L324.43 881.83 L324.9 881.39 L325.38 880.95 L325.86 880.51 L326.33 880.07 L326.81 879.62 L327.29 879.18 L327.76 878.74 L328.24 878.3 L328.72 877.86 L329.19 877.42 L329.67 876.98 L330.14 876.54 L330.62 876.09 L331.09 875.65 L331.57 875.21 L332.04 874.77 L332.52 874.32 L332.99 873.88 L333.47 873.44 L333.94 872.99 L334.41 872.55 L334.89 872.11 L335.36 871.66 L335.83 871.22 L336.31 870.77 L336.78 870.32 L337.25 869.88 L337.72 869.43 L338.19 868.98 L338.66 868.53 L339.13 868.09 L339.6 867.64 L340.07 867.19 L340.54 866.74 L341.01 866.29 L341.48 865.83 L341.94 865.38 L342.41 864.93 L342.88 864.48 L343.34 864.02 L343.81 863.57 L344.27 863.11 L344.74 862.66 L345.2 862.2 L345.66 861.74 L346.12 861.28 L346.59 860.82 L347.05 860.36 L347.51 859.9 L347.97 859.44 L348.43 858.98 L348.88 858.52 L349.34 858.05 L349.8 857.59 L350.26 857.12 L350.71 856.65 L351.16 856.19 L351.62 855.72 L352.07 855.25 L352.52 854.78 L352.97 854.3 L353.42 853.83 L353.87 853.36 L354.31 852.88 L354.75 852.4 L355.2 851.92 L355.64 851.44 L356.07 850.96 L356.51 850.48 L356.94 850 L357.37 849.51 L357.8 849.02 L358.23 848.53 L358.65 848.04 L359.07 847.55 L359.49 847.06 L359.9 846.56 L360.32 846.06 L360.73 845.56 L361.13 845.06 L361.53 844.56 L361.93 844.06 L362.33 843.55 L362.72 843.04 L363.11 842.53 L363.5 842.02 L363.88 841.5 L364.25 840.98 L364.63 840.46 L365 839.94 L365.36 839.42 L365.72 838.89 L366.08 838.36 L366.43 837.83 L366.78 837.29 L367.12 836.74 L367.46 836.17 L367.8 835.58 L368.13 834.97 L368.47 834.34 L368.8 833.67 L369.12 832.98 L369.37 832.3 L369.48 831.67 L369.4 831.14 L369.07 830.75 L368.55 830.49 L367.92 830.33 L367.26 830.26 L366.61 830.27 L365.98 830.34 L365.35 830.48 L364.74 830.67 L364.14 830.92 L363.55 831.2 L362.97 831.53 L362.4 831.89 L361.85 832.28 L361.31 832.69 L360.78 833.12 L360.26 833.55 L359.75 833.99 L359.25 834.43 L358.76 834.87 L358.28 835.31 L357.81 835.75 L357.34 836.19 L356.88 836.64 L356.42 837.08 L355.96 837.52 L355.5 837.96 L355.04 838.41 L354.58 838.85 L354.11 839.3 L353.65 839.74 L353.19 840.19 L352.72 840.64 L352.25 841.09 L351.79 841.54 L351.32 841.99 L350.85 842.44 L350.39 842.89 L349.92 843.34 L349.45 843.8 L348.99 844.25 L348.52 844.71 L348.05 845.17 L347.59 845.62 L347.12 846.08 L346.66 846.54 L346.19 847.01 L345.73 847.47 L345.27 847.93 L344.81 848.4 L344.35 848.86 L343.89 849.33 L343.43 849.8 L342.98 850.27 L342.52 850.74 L342.07 851.22 L341.62 851.69 L341.17 852.17 L340.73 852.64 L340.29 853.12 L339.84 853.6 L339.41 854.08 L338.97 854.57 L338.54 855.05 L338.11 855.54 L337.68 856.03 L337.26 856.52 L336.84 857.01 L336.42 857.5 L336 858 L335.59 858.49 L335.18 858.99 L334.77 859.49 L334.36 859.99 L333.96 860.49 L333.55 860.99 L333.15 861.5 L332.75 862 L332.35 862.51 L331.95 863.01 L331.55 863.52 L331.15 864.03 L330.75 864.53 L330.35 865.04 L329.95 865.55 L329.56 866.06 L329.16 866.57 L328.76 867.08 L328.36 867.59 L327.96 868.11 L327.55 868.62 L327.15 869.13 L326.74 869.64 L326.34 870.15 L325.93 870.66 L325.52 871.17 L325.11 871.68 L324.69 872.2 L324.28 872.71 L323.86 873.22 L323.43 873.73 L323.01 874.23 L322.58 874.74 L322.15 875.25 L321.72 875.76 L321.3 876.26 L320.87 876.76 L320.44 877.26 L320.02 877.76 L319.61 878.26 L319.2 878.75 L318.79 879.24 L318.4 879.72 L318.01 880.21 L317.63 880.68 L317.26 881.16 L316.9 881.63 L316.54 882.1 L316.18 882.57 L315.82 883.04 L315.45 883.51 L315.07 883.99 L314.68 884.48 L314.27 884.98 L313.84 885.49 L313.38 886 L312.9 886.54 L312.38 887.09 L311.83 887.65 L311.24 888.24 L310.63 888.84 L310.02 889.44 L309.46 890.03 L308.96 890.61 L308.55 891.17 L308.26 891.69 L308.13 892.16 L308.16 892.58 L308.39 892.94 L308.76 893.2 L309.18 893.34 L309.64 893.35 L310.12 893.24 L310.63 893.03 L311.16 892.73 L311.7 892.36 L312.26 891.93 L312.82 891.46 L313.38 890.95 L313.94 890.42 L314.5 889.88 L315.04 889.35 L315.57 888.84 L316.09 888.33 L316.6 887.82 L317.1 887.33 L317.6 886.84 L318.08 886.36 L318.56 885.89 L319.03 885.42 L319.5 884.96 L319.96 884.5 L320.42 884.05 L320.87 883.6 L321.32 883.16 L321.77 882.72 L322.21 882.28 L322.66 881.84 L323.1 881.41 L323.54 880.98 L323.99 880.55 L324.43 880.12 L324.88 879.69 L325.33 879.26 L325.79 878.83 L326.25 878.4 L326.71 877.97 L327.18 877.53 L327.65 877.09 L328.12 876.66 L328.6 876.22 L329.07 875.77 L329.55 875.33 L330.03 874.88 L330.51 874.43 L330.99 873.97 L331.47 873.52 L331.94 873.06 L332.41 872.59 L332.88 872.12 L333.35 871.65 L333.81 871.17 L334.27 870.69 L334.72 870.21 L335.17 869.72 L335.61 869.22 L336.04 868.72 L336.46 868.22 L336.88 867.71 L337.28 867.19 L337.68 866.67 L338.07 866.14 L338.44 865.61 L338.81 865.07 L339.16 864.52 L339.5 863.97 L339.83 863.41 L340.14 862.84 L340.44 862.27 L340.71 861.69 L340.9 861.1 L340.97 860.49 L340.86 859.87 L340.54 859.24 L340.06 858.71 L339.51 858.44 L338.96 858.48 L338.41 858.77 L337.86 859.24 L337.32 859.82 L336.79 860.46 L336.27 861.07 L335.76 861.64 L335.26 862.16 L334.78 862.64 L334.3 863.1 L333.83 863.52 L333.37 863.93 L332.91 864.32 L332.46 864.71 L332 865.1 L331.55 865.5 L331.09 865.92 L330.63 866.35 L330.16 866.81 L329.7 867.28 L329.23 867.77 L328.77 868.26 L328.32 868.76 L327.87 869.27 L327.43 869.77 L327 870.26 L326.59 870.75 L326.19 871.22 L325.8 871.68 L325.44 872.12 L325.08 872.54 L324.73 872.96 L324.38 873.39 L324.02 873.83 L323.64 874.3 L323.24 874.81 L322.8 875.36 L322.32 875.98 L321.79 876.65 L321.21 877.4 L320.59 878.21 L320 879.01 L319.46 879.78 L319.03 880.46 L318.76 881 L318.68 881.37 L318.85 881.52 L319.3 881.39 L319.91 881.09 L320.47 880.74 L321 880.39 L321.53 880.02 L322.06 879.64 L322.58 879.25 L323.1 878.85 L323.61 878.45 L324.12 878.05 L324.63 877.64 L325.14 877.23 L325.64 876.82 L326.14 876.41 L326.64 875.99 L327.14 875.57 L327.63 875.15 L328.12 874.73 L328.61 874.3 L329.1 873.87 L329.58 873.44 L330.07 873 L330.55 872.56 L331.02 872.12 L331.5 871.68 L331.97 871.23 L332.44 870.78 L332.91 870.33 L333.37 869.87 L333.83 869.41 L334.29 868.95 L334.73 868.48 L335.17 868 L335.6 867.51 L335.99 866.97 L336.04 866.52 L335.42 866.75 L334.87 867.11 L334.35 867.48 L333.82 867.87 L333.31 868.26 L332.79 868.67 L332.28 869.07 L331.78 869.48 L331.28 869.9 L330.79 870.32 L330.29 870.74 L329.81 871.17 L329.32 871.6 L328.84 872.04 L328.36 872.49 L327.89 872.93 L327.42 873.39 L326.96 873.84 L326.5 874.3 L326.06 874.77 L325.63 875.26 L325.42 875.77 L326 875.53 L326.54 875.17 L327.05 874.77 L327.56 874.37 L328.06 873.95 L328.57 873.53 L329.07 873.11 L329.55 872.68 L330.03 872.25 L330.49 871.81 L330.95 871.36 L331.44 870.88 L331.89 870.38 L331.87 870.09 L331.32 870.43 L330.77 870.86 L330.26 871.28 L329.78 871.69 L329.31 872.1 L328.84 872.54 L328.34 873.03 L327.96 873.52 L328.38 873.35 L328.9 872.95 L329.36 872.53 L329.88 872.08 L330.34 871.61 L330.19 871.55 L329.66 871.98 L329.15 872.43 L329.02 872.7 L329.57 872.25 L329.75 871.98 L329.26 872.44" fill="none" stroke="url(#g5)" stroke-width="1.6" stroke-linecap="round" stroke-linejoin="round"/>
</svg></body></html>
